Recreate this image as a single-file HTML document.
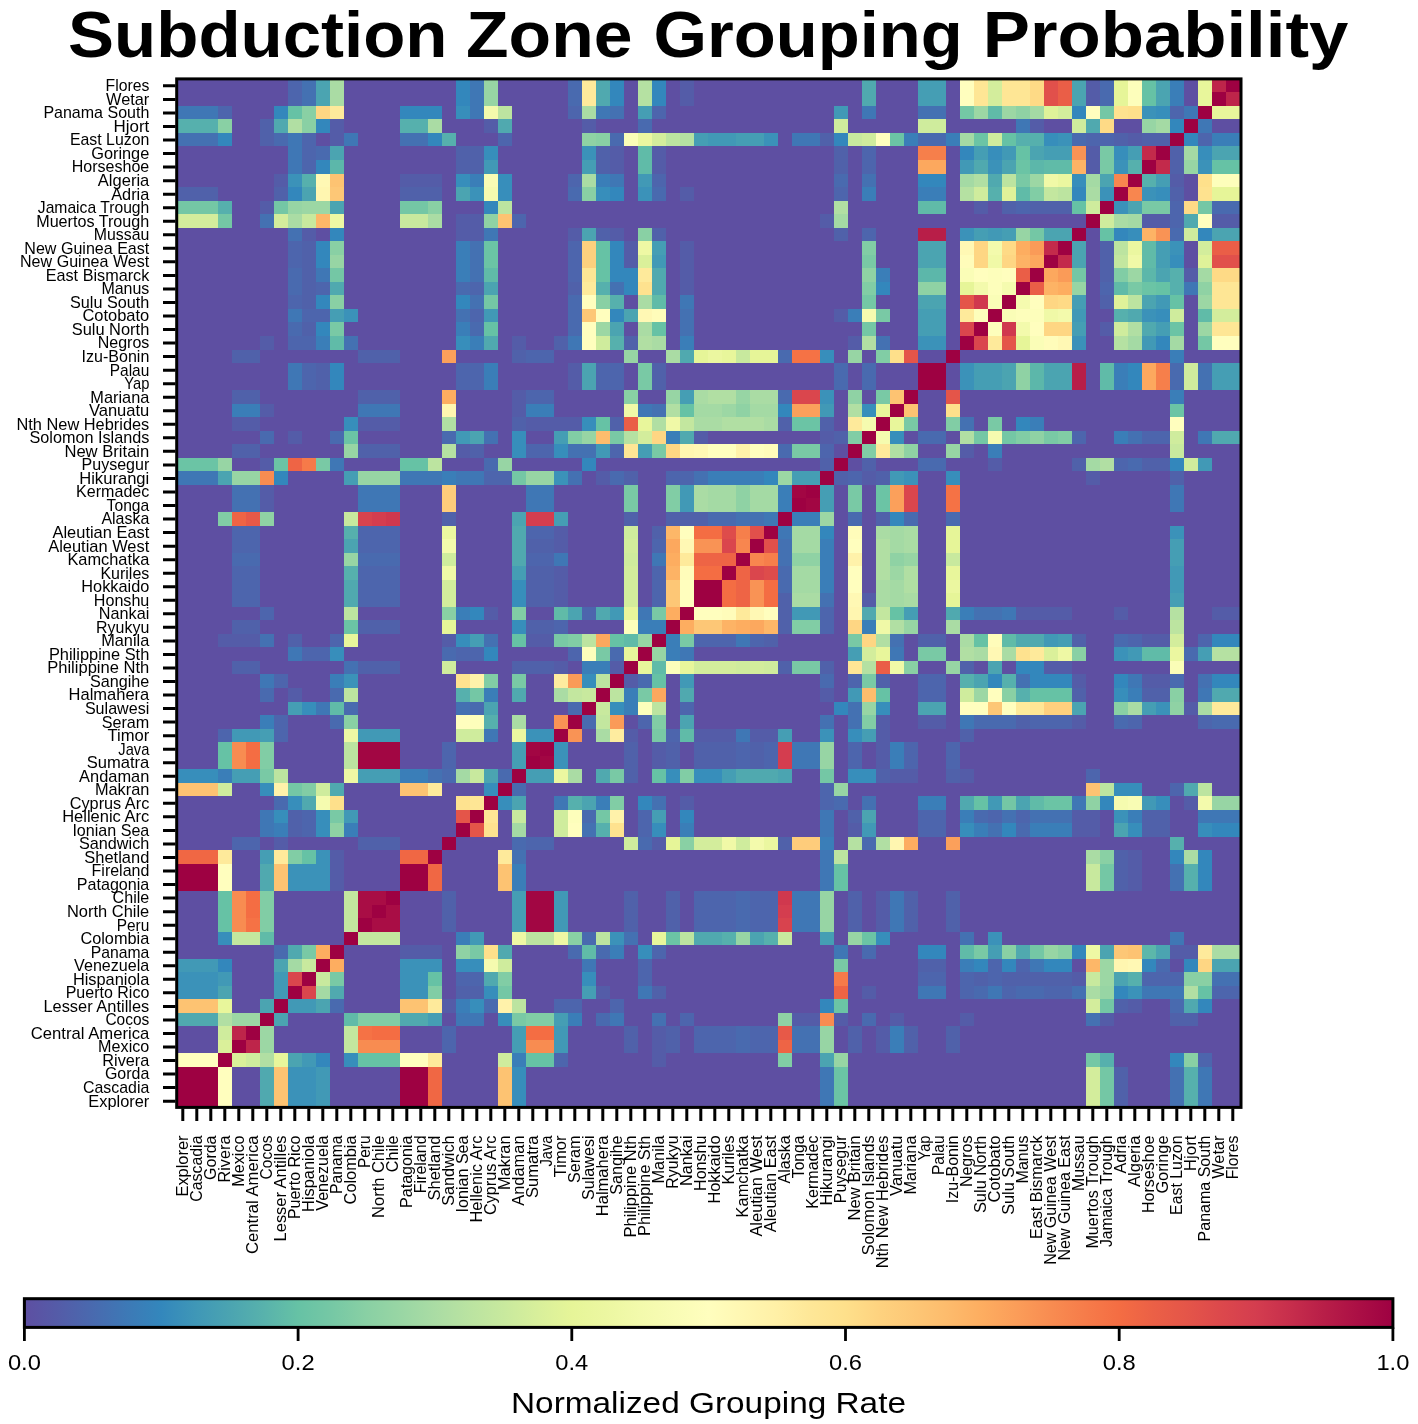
<!DOCTYPE html>
<html><head><meta charset="utf-8"><title>Subduction Zone Grouping Probability</title>
<style>html,body{margin:0;padding:0;background:#fff}svg{display:block}text{font-family:"Liberation Sans",sans-serif;fill:#000;-webkit-font-smoothing:antialiased}.t{font-size:16.6px}</style></head><body>
<svg width="1418" height="1424" viewBox="0 0 1418 1424" style="will-change:transform">
<rect width="1418" height="1424" fill="#fff"/>
<text id="title" y="56.8" font-size="64" font-weight="bold"><tspan x="68.1" textLength="379.4" lengthAdjust="spacingAndGlyphs">Subduction</tspan> <tspan x="466" textLength="166.5" lengthAdjust="spacingAndGlyphs">Zone</tspan> <tspan x="653.6" textLength="309.2" lengthAdjust="spacingAndGlyphs">Grouping</tspan> <tspan x="982.8" textLength="365.5" lengthAdjust="spacingAndGlyphs">Probability</tspan></text>
<g shape-rendering="crispEdges">
<rect x="175.5" y="78.8" width="1064" height="1028.81" fill="#5e4fa2"/>
<path fill="#545ca8" d="M679.5 78.8H693.5V92.34H679.5zM1085.5 78.8H1099.5V92.34H1085.5zM679.5 92.34H693.5V105.87H679.5zM1085.5 92.34H1099.5V105.87H1085.5zM329.5 119.41H343.5V132.95H329.5zM483.5 119.41H497.5V132.95H483.5zM581.5 119.41H595.5V132.95H581.5zM1029.5 119.41H1043.5V132.95H1029.5zM329.5 132.95H343.5V146.49H329.5zM1127.5 132.95H1141.5V146.49H1127.5zM609.5 146.49H623.5V160.02H609.5zM651.5 146.49H665.5V160.02H651.5zM1085.5 146.49H1099.5V160.02H1085.5zM609.5 160.02H623.5V173.56H609.5zM651.5 160.02H665.5V173.56H651.5zM1085.5 160.02H1099.5V173.56H1085.5zM273.5 173.56H287.5V187.1H273.5zM399.5 173.56H441.5V187.1H399.5zM1169.5 173.56H1183.5V187.1H1169.5zM679.5 187.1H693.5V200.63H679.5zM259.5 200.63H273.5V214.17H259.5zM973.5 200.63H987.5V214.17H973.5zM455.5 214.17H483.5V227.71H455.5zM819.5 214.17H833.5V227.71H819.5zM1141.5 214.17H1169.5V227.71H1141.5zM1211.5 214.17H1239.5V227.71H1211.5zM301.5 227.71H315.5V241.24H301.5zM455.5 227.71H483.5V241.24H455.5zM567.5 227.71H581.5V241.24H567.5zM609.5 227.71H623.5V241.24H609.5zM623.5 241.24H637.5V254.78H623.5zM679.5 241.24H693.5V254.78H679.5zM623.5 254.78H637.5V268.32H623.5zM679.5 254.78H693.5V268.32H679.5zM679.5 268.32H693.5V281.86H679.5zM1183.5 268.32H1197.5V281.86H1183.5zM679.5 281.86H693.5V295.39H679.5zM833.5 308.93H847.5V322.47H833.5zM1099.5 322.47H1113.5V336H1099.5zM259.5 336H273.5V349.54H259.5zM511.5 336H525.5V349.54H511.5zM847.5 336H861.5V349.54H847.5zM567.5 363.08H581.5V376.61H567.5zM567.5 376.61H581.5V390.15H567.5zM511.5 390.15H525.5V403.69H511.5zM259.5 403.69H273.5V417.23H259.5zM511.5 403.69H525.5V417.23H511.5zM231.5 417.23H259.5V430.76H231.5zM357.5 417.23H399.5V430.76H357.5zM525.5 417.23H581.5V430.76H525.5zM287.5 430.76H301.5V444.3H287.5zM693.5 430.76H707.5V444.3H693.5zM819.5 430.76H833.5V444.3H819.5zM455.5 444.3H469.5V457.84H455.5zM959.5 444.3H973.5V457.84H959.5zM259.5 457.84H273.5V471.37H259.5zM987.5 457.84H1001.5V471.37H987.5zM595.5 471.37H609.5V484.91H595.5zM861.5 471.37H875.5V484.91H861.5zM1085.5 471.37H1099.5V484.91H1085.5zM259.5 484.91H273.5V498.45H259.5zM259.5 498.45H273.5V511.98H259.5zM553.5 525.52H567.5V539.06H553.5zM553.5 539.06H567.5V552.6H553.5zM553.5 566.13H567.5V579.67H553.5zM553.5 579.67H567.5V593.21H553.5zM553.5 593.21H567.5V606.74H553.5zM861.5 593.21H875.5V606.74H861.5zM483.5 606.74H497.5V620.28H483.5zM1015.5 606.74H1071.5V620.28H1015.5zM1113.5 606.74H1127.5V620.28H1113.5zM1211.5 606.74H1239.5V620.28H1211.5zM217.5 633.82H259.5V647.35H217.5zM441.5 633.82H455.5V647.35H441.5zM525.5 633.82H553.5V647.35H525.5zM1141.5 633.82H1169.5V647.35H1141.5zM553.5 660.89H567.5V674.43H553.5zM609.5 660.89H623.5V674.43H609.5zM1043.5 660.89H1071.5V674.43H1043.5zM623.5 674.43H637.5V687.97H623.5zM1071.5 674.43H1085.5V687.97H1071.5zM1141.5 674.43H1169.5V687.97H1141.5zM287.5 687.97H301.5V701.5H287.5zM819.5 687.97H833.5V701.5H819.5zM1183.5 701.5H1197.5V715.04H1183.5zM875.5 715.04H889.5V728.58H875.5zM917.5 715.04H945.5V728.58H917.5zM1071.5 715.04H1085.5V728.58H1071.5zM623.5 728.58H637.5V742.11H623.5zM693.5 728.58H735.5V742.11H693.5zM749.5 728.58H777.5V742.11H749.5zM875.5 728.58H889.5V742.11H875.5zM651.5 742.11H665.5V755.65H651.5zM875.5 742.11H889.5V755.65H875.5zM651.5 755.65H665.5V769.19H651.5zM875.5 755.65H889.5V769.19H875.5zM889.5 769.19H917.5V782.72H889.5zM959.5 769.19H973.5V782.72H959.5zM679.5 796.26H693.5V809.8H679.5zM1183.5 796.26H1197.5V809.8H1183.5zM1071.5 809.8H1099.5V823.34H1071.5zM847.5 823.34H861.5V836.87H847.5zM1071.5 823.34H1099.5V836.87H1071.5zM273.5 836.87H287.5V850.41H273.5zM651.5 836.87H665.5V850.41H651.5zM329.5 850.41H343.5V863.95H329.5zM1127.5 850.41H1141.5V863.95H1127.5zM329.5 863.95H343.5V877.48H329.5zM1127.5 863.95H1141.5V877.48H1127.5zM329.5 877.48H343.5V891.02H329.5zM1127.5 877.48H1141.5V891.02H1127.5zM875.5 891.02H889.5V904.56H875.5zM875.5 904.56H889.5V918.09H875.5zM875.5 918.09H889.5V931.63H875.5zM399.5 945.17H441.5V958.71H399.5zM1169.5 945.17H1197.5V958.71H1169.5zM1071.5 972.24H1085.5V985.78H1071.5zM595.5 985.78H609.5V999.32H595.5zM861.5 985.78H875.5V999.32H861.5zM441.5 999.32H455.5V1012.85H441.5zM1127.5 999.32H1141.5V1012.85H1127.5zM791.5 1012.85H819.5V1026.39H791.5zM833.5 1012.85H847.5V1026.39H833.5zM889.5 1012.85H903.5V1026.39H889.5zM959.5 1012.85H973.5V1026.39H959.5zM1099.5 1012.85H1113.5V1026.39H1099.5zM651.5 1026.39H665.5V1039.93H651.5zM875.5 1026.39H889.5V1039.93H875.5zM651.5 1039.93H665.5V1053.46H651.5zM875.5 1039.93H889.5V1053.46H875.5zM651.5 1053.46H665.5V1067H651.5z"/>
<path fill="#5061aa" d="M259.5 119.41H273.5V132.95H259.5zM259.5 132.95H273.5V146.49H259.5zM819.5 132.95H833.5V146.49H819.5zM1113.5 132.95H1127.5V146.49H1113.5zM1141.5 132.95H1169.5V146.49H1141.5zM455.5 146.49H483.5V160.02H455.5zM595.5 146.49H609.5V160.02H595.5zM833.5 146.49H847.5V160.02H833.5zM1169.5 146.49H1183.5V160.02H1169.5zM455.5 160.02H483.5V173.56H455.5zM595.5 160.02H609.5V173.56H595.5zM833.5 160.02H847.5V173.56H833.5zM1169.5 160.02H1183.5V173.56H1169.5zM175.5 187.1H217.5V200.63H175.5zM273.5 187.1H287.5V200.63H273.5zM399.5 187.1H441.5V200.63H399.5zM1169.5 187.1H1183.5V200.63H1169.5zM1001.5 200.63H1015.5V214.17H1001.5zM1029.5 200.63H1071.5V214.17H1029.5zM595.5 227.71H609.5V241.24H595.5zM651.5 227.71H665.5V241.24H651.5zM833.5 227.71H847.5V241.24H833.5zM301.5 241.24H315.5V254.78H301.5zM1099.5 241.24H1113.5V254.78H1099.5zM301.5 254.78H315.5V268.32H301.5zM1099.5 254.78H1113.5V268.32H1099.5zM301.5 268.32H315.5V281.86H301.5zM1099.5 268.32H1113.5V281.86H1099.5zM301.5 281.86H315.5V295.39H301.5zM567.5 281.86H581.5V295.39H567.5zM301.5 295.39H315.5V308.93H301.5zM1099.5 295.39H1113.5V308.93H1099.5zM301.5 322.47H315.5V336H301.5zM553.5 336H567.5V349.54H553.5zM623.5 336H637.5V349.54H623.5zM231.5 349.54H259.5V363.08H231.5zM357.5 349.54H399.5V363.08H357.5zM511.5 349.54H525.5V363.08H511.5zM315.5 363.08H329.5V376.61H315.5zM651.5 363.08H665.5V376.61H651.5zM315.5 376.61H329.5V390.15H315.5zM651.5 376.61H665.5V390.15H651.5zM231.5 390.15H259.5V403.69H231.5zM357.5 390.15H399.5V403.69H357.5zM511.5 417.23H525.5V430.76H511.5zM609.5 417.23H623.5V430.76H609.5zM777.5 417.23H791.5V430.76H777.5zM819.5 417.23H833.5V430.76H819.5zM833.5 430.76H847.5V444.3H833.5zM231.5 444.3H259.5V457.84H231.5zM357.5 444.3H399.5V457.84H357.5zM469.5 444.3H483.5V457.84H469.5zM819.5 457.84H833.5V471.37H819.5zM861.5 457.84H875.5V471.37H861.5zM1071.5 457.84H1085.5V471.37H1071.5zM1141.5 457.84H1169.5V471.37H1141.5zM623.5 471.37H637.5V484.91H623.5zM833.5 471.37H847.5V484.91H833.5zM875.5 471.37H889.5V484.91H875.5zM1169.5 471.37H1183.5V484.91H1169.5zM441.5 511.98H455.5V525.52H441.5zM623.5 511.98H637.5V525.52H623.5zM665.5 511.98H707.5V525.52H665.5zM875.5 511.98H889.5V525.52H875.5zM651.5 525.52H665.5V539.06H651.5zM525.5 539.06H553.5V552.6H525.5zM525.5 566.13H553.5V579.67H525.5zM525.5 579.67H553.5V593.21H525.5zM525.5 593.21H553.5V606.74H525.5zM777.5 593.21H791.5V606.74H777.5zM777.5 606.74H791.5V620.28H777.5zM231.5 620.28H259.5V633.82H231.5zM357.5 620.28H399.5V633.82H357.5zM525.5 620.28H553.5V633.82H525.5zM777.5 620.28H791.5V633.82H777.5zM287.5 633.82H301.5V647.35H287.5zM763.5 633.82H777.5V647.35H763.5zM917.5 633.82H945.5V647.35H917.5zM1071.5 633.82H1085.5V647.35H1071.5zM231.5 660.89H259.5V674.43H231.5zM357.5 660.89H399.5V674.43H357.5zM511.5 660.89H553.5V674.43H511.5zM777.5 660.89H791.5V674.43H777.5zM819.5 660.89H833.5V674.43H819.5zM959.5 660.89H973.5V674.43H959.5zM875.5 674.43H889.5V687.97H875.5zM1071.5 687.97H1085.5V701.5H1071.5zM1141.5 687.97H1169.5V701.5H1141.5zM1015.5 715.04H1029.5V728.58H1015.5zM959.5 728.58H973.5V742.11H959.5zM623.5 742.11H637.5V755.65H623.5zM665.5 742.11H679.5V755.65H665.5zM693.5 742.11H735.5V755.65H693.5zM749.5 742.11H763.5V755.65H749.5zM623.5 755.65H637.5V769.19H623.5zM665.5 755.65H679.5V769.19H665.5zM693.5 755.65H735.5V769.19H693.5zM749.5 755.65H763.5V769.19H749.5zM623.5 769.19H637.5V782.72H623.5zM875.5 769.19H889.5V782.72H875.5zM945.5 769.19H959.5V782.72H945.5zM287.5 809.8H301.5V823.34H287.5zM847.5 809.8H861.5V823.34H847.5zM1141.5 809.8H1169.5V823.34H1141.5zM287.5 823.34H301.5V836.87H287.5zM1141.5 823.34H1169.5V836.87H1141.5zM357.5 836.87H399.5V850.41H357.5zM777.5 836.87H791.5V850.41H777.5zM1113.5 850.41H1127.5V863.95H1113.5zM1113.5 863.95H1127.5V877.48H1113.5zM1113.5 877.48H1127.5V891.02H1113.5zM441.5 891.02H455.5V904.56H441.5zM623.5 891.02H637.5V904.56H623.5zM665.5 891.02H679.5V904.56H665.5zM847.5 891.02H861.5V904.56H847.5zM903.5 891.02H917.5V904.56H903.5zM945.5 891.02H959.5V904.56H945.5zM441.5 904.56H455.5V918.09H441.5zM623.5 904.56H637.5V918.09H623.5zM665.5 904.56H679.5V918.09H665.5zM847.5 904.56H861.5V918.09H847.5zM903.5 904.56H917.5V918.09H903.5zM945.5 904.56H959.5V918.09H945.5zM441.5 918.09H455.5V931.63H441.5zM623.5 918.09H637.5V931.63H623.5zM665.5 918.09H679.5V931.63H665.5zM847.5 918.09H861.5V931.63H847.5zM903.5 918.09H917.5V931.63H903.5zM945.5 918.09H959.5V931.63H945.5zM917.5 958.71H945.5V972.24H917.5zM973.5 972.24H987.5V985.78H973.5zM1001.5 972.24H1071.5V985.78H1001.5zM455.5 985.78H483.5V999.32H455.5zM651.5 985.78H665.5V999.32H651.5zM1113.5 999.32H1127.5V1012.85H1113.5zM1169.5 1012.85H1197.5V1026.39H1169.5zM623.5 1026.39H637.5V1039.93H623.5zM665.5 1026.39H679.5V1039.93H665.5zM847.5 1026.39H861.5V1039.93H847.5zM903.5 1026.39H917.5V1039.93H903.5zM945.5 1026.39H959.5V1039.93H945.5zM623.5 1039.93H637.5V1053.46H623.5zM665.5 1039.93H679.5V1053.46H665.5zM847.5 1039.93H861.5V1053.46H847.5zM903.5 1039.93H917.5V1053.46H903.5zM945.5 1039.93H959.5V1053.46H945.5zM1113.5 1067H1127.5V1080.54H1113.5zM1113.5 1080.54H1127.5V1094.08H1113.5zM1113.5 1094.08H1127.5V1107.61H1113.5z"/>
<path fill="#4d65ad" d="M287.5 78.8H301.5V92.34H287.5zM287.5 92.34H301.5V105.87H287.5zM217.5 105.87H231.5V119.41H217.5zM567.5 105.87H581.5V119.41H567.5zM651.5 105.87H665.5V119.41H651.5zM1169.5 105.87H1183.5V119.41H1169.5zM301.5 132.95H315.5V146.49H301.5zM497.5 132.95H511.5V146.49H497.5zM1085.5 132.95H1113.5V146.49H1085.5zM1197.5 132.95H1211.5V146.49H1197.5zM301.5 146.49H315.5V160.02H301.5zM861.5 146.49H875.5V160.02H861.5zM301.5 160.02H315.5V173.56H301.5zM861.5 160.02H875.5V173.56H861.5zM567.5 173.56H581.5V187.1H567.5zM651.5 173.56H665.5V187.1H651.5zM833.5 187.1H847.5V200.63H833.5zM1015.5 200.63H1029.5V214.17H1015.5zM1169.5 200.63H1183.5V214.17H1169.5zM511.5 214.17H525.5V227.71H511.5zM1169.5 214.17H1183.5V227.71H1169.5zM861.5 227.71H875.5V241.24H861.5zM287.5 241.24H301.5V254.78H287.5zM567.5 241.24H581.5V254.78H567.5zM287.5 254.78H301.5V268.32H287.5zM567.5 254.78H581.5V268.32H567.5zM567.5 268.32H581.5V281.86H567.5zM315.5 281.86H329.5V295.39H315.5zM469.5 281.86H483.5V295.39H469.5zM1099.5 281.86H1113.5V295.39H1099.5zM287.5 295.39H301.5V308.93H287.5zM301.5 308.93H329.5V322.47H301.5zM469.5 308.93H483.5V322.47H469.5zM287.5 336H315.5V349.54H287.5zM525.5 349.54H553.5V363.08H525.5zM301.5 363.08H315.5V376.61H301.5zM455.5 363.08H483.5V376.61H455.5zM595.5 363.08H623.5V376.61H595.5zM301.5 376.61H315.5V390.15H301.5zM455.5 376.61H483.5V390.15H455.5zM595.5 376.61H623.5V390.15H595.5zM525.5 390.15H553.5V403.69H525.5zM1071.5 430.76H1085.5V444.3H1071.5zM1141.5 430.76H1169.5V444.3H1141.5zM525.5 444.3H553.5V457.84H525.5zM609.5 444.3H623.5V457.84H609.5zM819.5 444.3H833.5V457.84H819.5zM1113.5 457.84H1127.5V471.37H1113.5zM483.5 471.37H511.5V484.91H483.5zM665.5 471.37H693.5V484.91H665.5zM847.5 471.37H861.5V484.91H847.5zM231.5 525.52H259.5V539.06H231.5zM357.5 525.52H399.5V539.06H357.5zM525.5 525.52H553.5V539.06H525.5zM231.5 539.06H259.5V552.6H231.5zM357.5 539.06H399.5V552.6H357.5zM651.5 539.06H665.5V552.6H651.5zM525.5 552.6H553.5V566.13H525.5zM231.5 566.13H259.5V579.67H231.5zM357.5 566.13H399.5V579.67H357.5zM651.5 566.13H665.5V579.67H651.5zM231.5 579.67H259.5V593.21H231.5zM357.5 579.67H399.5V593.21H357.5zM651.5 579.67H665.5V593.21H651.5zM231.5 593.21H259.5V606.74H231.5zM357.5 593.21H399.5V606.74H357.5zM651.5 593.21H665.5V606.74H651.5zM259.5 606.74H273.5V620.28H259.5zM581.5 606.74H595.5V620.28H581.5zM819.5 606.74H833.5V620.28H819.5zM553.5 620.28H567.5V633.82H553.5zM819.5 620.28H833.5V633.82H819.5zM329.5 633.82H343.5V647.35H329.5zM693.5 633.82H735.5V647.35H693.5zM749.5 633.82H763.5V647.35H749.5zM1127.5 633.82H1141.5V647.35H1127.5zM1197.5 633.82H1211.5V647.35H1197.5zM301.5 647.35H329.5V660.89H301.5zM455.5 647.35H483.5V660.89H455.5zM567.5 647.35H581.5V660.89H567.5zM273.5 674.43H287.5V687.97H273.5zM847.5 674.43H861.5V687.97H847.5zM917.5 674.43H945.5V687.97H917.5zM917.5 687.97H945.5V701.5H917.5zM679.5 701.5H693.5V715.04H679.5zM273.5 715.04H287.5V728.58H273.5zM637.5 715.04H651.5V728.58H637.5zM1029.5 715.04H1071.5V728.58H1029.5zM1127.5 715.04H1141.5V728.58H1127.5zM1197.5 715.04H1211.5V728.58H1197.5zM217.5 728.58H231.5V742.11H217.5zM273.5 728.58H287.5V742.11H273.5zM665.5 728.58H679.5V742.11H665.5zM441.5 742.11H455.5V755.65H441.5zM735.5 742.11H749.5V755.65H735.5zM763.5 742.11H777.5V755.65H763.5zM847.5 742.11H861.5V755.65H847.5zM903.5 742.11H917.5V755.65H903.5zM945.5 742.11H959.5V755.65H945.5zM441.5 755.65H455.5V769.19H441.5zM735.5 755.65H749.5V769.19H735.5zM763.5 755.65H777.5V769.19H763.5zM847.5 755.65H861.5V769.19H847.5zM903.5 755.65H917.5V769.19H903.5zM945.5 755.65H959.5V769.19H945.5zM1085.5 769.19H1099.5V782.72H1085.5zM819.5 782.72H833.5V796.26H819.5zM1169.5 782.72H1183.5V796.26H1169.5zM819.5 796.26H833.5V809.8H819.5zM301.5 809.8H315.5V823.34H301.5zM637.5 809.8H651.5V823.34H637.5zM917.5 809.8H945.5V823.34H917.5zM987.5 809.8H1001.5V823.34H987.5zM1015.5 809.8H1029.5V823.34H1015.5zM301.5 823.34H315.5V836.87H301.5zM637.5 823.34H651.5V836.87H637.5zM917.5 823.34H945.5V836.87H917.5zM231.5 836.87H259.5V850.41H231.5zM525.5 836.87H553.5V850.41H525.5zM693.5 891.02H735.5V904.56H693.5zM749.5 891.02H777.5V904.56H749.5zM693.5 904.56H735.5V918.09H693.5zM749.5 904.56H777.5V918.09H749.5zM693.5 918.09H735.5V931.63H693.5zM749.5 918.09H777.5V931.63H749.5zM651.5 945.17H665.5V958.71H651.5zM637.5 958.71H651.5V972.24H637.5zM987.5 958.71H1001.5V972.24H987.5zM1015.5 958.71H1029.5V972.24H1015.5zM455.5 972.24H483.5V985.78H455.5zM637.5 972.24H651.5V985.78H637.5zM917.5 972.24H945.5V985.78H917.5zM959.5 972.24H973.5V985.78H959.5zM987.5 972.24H1001.5V985.78H987.5zM1141.5 972.24H1183.5V985.78H1141.5zM959.5 985.78H973.5V999.32H959.5zM1001.5 985.78H1015.5V999.32H1001.5zM1043.5 985.78H1071.5V999.32H1043.5zM1211.5 985.78H1239.5V999.32H1211.5zM553.5 999.32H581.5V1012.85H553.5zM609.5 999.32H623.5V1012.85H609.5zM679.5 1012.85H693.5V1026.39H679.5zM441.5 1026.39H455.5V1039.93H441.5zM693.5 1026.39H735.5V1039.93H693.5zM749.5 1026.39H777.5V1039.93H749.5zM441.5 1039.93H455.5V1053.46H441.5zM693.5 1039.93H735.5V1053.46H693.5zM749.5 1039.93H777.5V1053.46H749.5zM553.5 1053.46H567.5V1067H553.5zM1197.5 1053.46H1211.5V1067H1197.5z"/>
<path fill="#496aaf" d="M567.5 78.8H581.5V92.34H567.5zM1099.5 78.8H1113.5V92.34H1099.5zM567.5 92.34H581.5V105.87H567.5zM1099.5 92.34H1113.5V105.87H1099.5zM637.5 119.41H651.5V132.95H637.5zM273.5 132.95H287.5V146.49H273.5zM609.5 132.95H623.5V146.49H609.5zM917.5 132.95H945.5V146.49H917.5zM1071.5 132.95H1085.5V146.49H1071.5zM315.5 146.49H329.5V160.02H315.5zM833.5 173.56H847.5V187.1H833.5zM567.5 187.1H581.5V200.63H567.5zM651.5 187.1H665.5V200.63H651.5zM1211.5 200.63H1239.5V214.17H1211.5zM1169.5 227.71H1183.5V241.24H1169.5zM287.5 268.32H301.5V281.86H287.5zM287.5 281.86H301.5V295.39H287.5zM455.5 281.86H469.5V295.39H455.5zM567.5 295.39H581.5V308.93H567.5zM567.5 308.93H581.5V322.47H567.5zM287.5 322.47H301.5V336H287.5zM469.5 322.47H483.5V336H469.5zM567.5 322.47H581.5V336H567.5zM777.5 349.54H791.5V363.08H777.5zM833.5 363.08H847.5V376.61H833.5zM861.5 363.08H875.5V376.61H861.5zM1169.5 363.08H1183.5V376.61H1169.5zM833.5 376.61H847.5V390.15H833.5zM861.5 376.61H875.5V390.15H861.5zM1169.5 376.61H1183.5V390.15H1169.5zM777.5 390.15H791.5V403.69H777.5zM259.5 430.76H273.5V444.3H259.5zM329.5 430.76H343.5V444.3H329.5zM441.5 430.76H455.5V444.3H441.5zM917.5 430.76H945.5V444.3H917.5zM777.5 444.3H791.5V457.84H777.5zM483.5 457.84H497.5V471.37H483.5zM917.5 457.84H945.5V471.37H917.5zM1127.5 457.84H1141.5V471.37H1127.5zM609.5 471.37H623.5V484.91H609.5zM707.5 511.98H735.5V525.52H707.5zM847.5 511.98H861.5V525.52H847.5zM903.5 511.98H917.5V525.52H903.5zM945.5 511.98H959.5V525.52H945.5zM231.5 552.6H259.5V566.13H231.5zM357.5 552.6H399.5V566.13H357.5zM777.5 566.13H791.5V579.67H777.5zM777.5 579.67H791.5V593.21H777.5zM1113.5 633.82H1127.5V647.35H1113.5zM441.5 647.35H455.5V660.89H441.5zM609.5 647.35H623.5V660.89H609.5zM1183.5 647.35H1197.5V660.89H1183.5zM637.5 674.43H651.5V687.97H637.5zM819.5 674.43H833.5V687.97H819.5zM1169.5 674.43H1183.5V687.97H1169.5zM259.5 687.97H273.5V701.5H259.5zM329.5 687.97H343.5V701.5H329.5zM343.5 701.5H357.5V715.04H343.5zM469.5 701.5H483.5V715.04H469.5zM567.5 701.5H581.5V715.04H567.5zM329.5 715.04H343.5V728.58H329.5zM581.5 715.04H595.5V728.58H581.5zM973.5 715.04H1015.5V728.58H973.5zM1113.5 715.04H1127.5V728.58H1113.5zM1211.5 715.04H1239.5V728.58H1211.5zM441.5 769.19H455.5V782.72H441.5zM497.5 769.19H511.5V782.72H497.5zM511.5 782.72H525.5V796.26H511.5zM273.5 796.26H287.5V809.8H273.5zM833.5 796.26H847.5V809.8H833.5zM581.5 809.8H595.5V823.34H581.5zM973.5 809.8H987.5V823.34H973.5zM1015.5 823.34H1029.5V836.87H1015.5zM511.5 836.87H525.5V850.41H511.5zM637.5 836.87H651.5V850.41H637.5zM861.5 836.87H875.5V850.41H861.5zM735.5 891.02H749.5V904.56H735.5zM735.5 904.56H749.5V918.09H735.5zM735.5 918.09H749.5V931.63H735.5zM581.5 931.63H595.5V945.17H581.5zM273.5 945.17H287.5V958.71H273.5zM567.5 945.17H581.5V958.71H567.5zM595.5 945.17H609.5V958.71H595.5zM861.5 945.17H875.5V958.71H861.5zM1155.5 958.71H1169.5V972.24H1155.5zM973.5 985.78H987.5V999.32H973.5zM1015.5 985.78H1043.5V999.32H1015.5zM329.5 999.32H343.5V1012.85H329.5zM483.5 999.32H497.5V1012.85H483.5zM1169.5 999.32H1183.5V1012.85H1169.5zM595.5 1012.85H609.5V1026.39H595.5zM861.5 1012.85H875.5V1026.39H861.5zM735.5 1026.39H749.5V1039.93H735.5zM735.5 1039.93H749.5V1053.46H735.5z"/>
<path fill="#4471b2" d="M301.5 78.8H315.5V92.34H301.5zM301.5 92.34H315.5V105.87H301.5zM609.5 105.87H623.5V119.41H609.5zM917.5 105.87H945.5V119.41H917.5zM175.5 132.95H217.5V146.49H175.5zM399.5 132.95H427.5V146.49H399.5zM861.5 173.56H875.5V187.1H861.5zM259.5 214.17H273.5V227.71H259.5zM287.5 227.71H301.5V241.24H287.5zM469.5 241.24H483.5V254.78H469.5zM469.5 254.78H483.5V268.32H469.5zM469.5 268.32H483.5V281.86H469.5zM609.5 281.86H623.5V295.39H609.5zM469.5 295.39H483.5V308.93H469.5zM455.5 308.93H469.5V322.47H455.5zM679.5 308.93H693.5V322.47H679.5zM679.5 322.47H693.5V336H679.5zM343.5 336H357.5V349.54H343.5zM875.5 336H889.5V349.54H875.5zM1197.5 363.08H1211.5V376.61H1197.5zM1197.5 376.61H1211.5V390.15H1197.5zM651.5 403.69H665.5V417.23H651.5zM959.5 417.23H973.5V430.76H959.5zM483.5 430.76H497.5V444.3H483.5zM1127.5 430.76H1141.5V444.3H1127.5zM567.5 444.3H595.5V457.84H567.5zM567.5 471.37H581.5V484.91H567.5zM693.5 471.37H707.5V484.91H693.5zM231.5 484.91H259.5V498.45H231.5zM231.5 498.45H259.5V511.98H231.5zM735.5 511.98H763.5V525.52H735.5zM777.5 539.06H791.5V552.6H777.5zM777.5 552.6H791.5V566.13H777.5zM819.5 593.21H833.5V606.74H819.5zM973.5 606.74H1001.5V620.28H973.5zM259.5 633.82H273.5V647.35H259.5zM483.5 633.82H497.5V647.35H483.5zM889.5 633.82H903.5V647.35H889.5zM343.5 660.89H357.5V674.43H343.5zM1015.5 674.43H1029.5V687.97H1015.5zM1197.5 674.43H1211.5V687.97H1197.5zM455.5 701.5H469.5V715.04H455.5zM847.5 701.5H861.5V715.04H847.5zM819.5 715.04H833.5V728.58H819.5zM847.5 715.04H861.5V728.58H847.5zM427.5 769.19H441.5V782.72H427.5zM651.5 796.26H665.5V809.8H651.5zM861.5 796.26H875.5V809.8H861.5zM1001.5 809.8H1015.5V823.34H1001.5zM1029.5 809.8H1071.5V823.34H1029.5zM581.5 823.34H595.5V836.87H581.5zM987.5 823.34H1001.5V836.87H987.5zM511.5 850.41H525.5V863.95H511.5zM1169.5 863.95H1183.5V877.48H1169.5zM1169.5 877.48H1183.5V891.02H1169.5zM623.5 931.63H637.5V945.17H623.5zM959.5 931.63H973.5V945.17H959.5zM1211.5 972.24H1239.5V985.78H1211.5zM1071.5 985.78H1085.5V999.32H1071.5zM651.5 1012.85H665.5V1026.39H651.5zM1085.5 1012.85H1099.5V1026.39H1085.5zM791.5 1026.39H819.5V1039.93H791.5zM791.5 1039.93H819.5V1053.46H791.5zM1169.5 1067H1183.5V1080.54H1169.5zM1169.5 1080.54H1183.5V1094.08H1169.5zM1169.5 1094.08H1183.5V1107.61H1169.5z"/>
<path fill="#3f77b5" d="M469.5 78.8H483.5V92.34H469.5zM469.5 92.34H483.5V105.87H469.5zM175.5 105.87H217.5V119.41H175.5zM469.5 105.87H483.5V119.41H469.5zM595.5 105.87H609.5V119.41H595.5zM861.5 105.87H875.5V119.41H861.5zM1183.5 105.87H1197.5V119.41H1183.5zM1015.5 119.41H1029.5V132.95H1015.5zM1197.5 119.41H1211.5V132.95H1197.5zM287.5 132.95H301.5V146.49H287.5zM343.5 132.95H357.5V146.49H343.5zM791.5 132.95H819.5V146.49H791.5zM287.5 146.49H301.5V160.02H287.5zM287.5 160.02H301.5V173.56H287.5zM609.5 173.56H623.5V187.1H609.5zM483.5 227.71H497.5V241.24H483.5zM315.5 268.32H329.5V281.86H315.5zM1183.5 281.86H1197.5V295.39H1183.5zM679.5 295.39H693.5V308.93H679.5zM287.5 308.93H301.5V322.47H287.5zM567.5 336H581.5V349.54H567.5zM287.5 363.08H301.5V376.61H287.5zM287.5 376.61H301.5V390.15H287.5zM357.5 403.69H399.5V417.23H357.5zM637.5 403.69H651.5V417.23H637.5zM1197.5 430.76H1211.5V444.3H1197.5zM329.5 457.84H343.5V471.37H329.5zM175.5 471.37H217.5V484.91H175.5zM399.5 471.37H441.5V484.91H399.5zM455.5 471.37H483.5V484.91H455.5zM357.5 484.91H399.5V498.45H357.5zM525.5 484.91H553.5V498.45H525.5zM1169.5 484.91H1183.5V498.45H1169.5zM357.5 498.45H399.5V511.98H357.5zM525.5 498.45H553.5V511.98H525.5zM1169.5 498.45H1183.5V511.98H1169.5zM763.5 511.98H777.5V525.52H763.5zM777.5 525.52H791.5V539.06H777.5zM553.5 552.6H567.5V566.13H553.5zM651.5 552.6H665.5V566.13H651.5zM637.5 606.74H651.5V620.28H637.5zM1001.5 606.74H1015.5V620.28H1001.5zM735.5 633.82H749.5V647.35H735.5zM287.5 647.35H301.5V660.89H287.5zM679.5 647.35H693.5V660.89H679.5zM889.5 647.35H903.5V660.89H889.5zM259.5 674.43H273.5V687.97H259.5zM1127.5 674.43H1141.5V687.97H1127.5zM1197.5 687.97H1211.5V701.5H1197.5zM315.5 701.5H329.5V715.04H315.5zM959.5 715.04H973.5V728.58H959.5zM483.5 728.58H497.5V742.11H483.5zM735.5 728.58H749.5V742.11H735.5zM791.5 742.11H819.5V755.65H791.5zM791.5 755.65H819.5V769.19H791.5zM553.5 796.26H567.5V809.8H553.5zM1071.5 796.26H1085.5V809.8H1071.5zM259.5 809.8H273.5V823.34H259.5zM819.5 809.8H833.5V823.34H819.5zM1197.5 809.8H1239.5V823.34H1197.5zM259.5 823.34H273.5V836.87H259.5zM819.5 823.34H833.5V836.87H819.5zM819.5 850.41H833.5V863.95H819.5zM819.5 863.95H833.5V877.48H819.5zM819.5 877.48H833.5V891.02H819.5zM791.5 891.02H819.5V904.56H791.5zM889.5 891.02H903.5V904.56H889.5zM791.5 904.56H819.5V918.09H791.5zM889.5 904.56H903.5V918.09H889.5zM791.5 918.09H819.5V931.63H791.5zM889.5 918.09H903.5V931.63H889.5zM1169.5 931.63H1183.5V945.17H1169.5zM833.5 945.17H847.5V958.71H833.5zM581.5 958.71H595.5V972.24H581.5zM1029.5 958.71H1043.5V972.24H1029.5zM637.5 985.78H651.5V999.32H637.5zM917.5 985.78H945.5V999.32H917.5zM987.5 985.78H1001.5V999.32H987.5zM1141.5 985.78H1183.5V999.32H1141.5zM455.5 1012.85H483.5V1026.39H455.5zM609.5 1012.85H623.5V1026.39H609.5zM819.5 1067H833.5V1080.54H819.5zM1197.5 1067H1211.5V1080.54H1197.5zM819.5 1080.54H833.5V1094.08H819.5zM1197.5 1080.54H1211.5V1094.08H1197.5zM819.5 1094.08H833.5V1107.61H819.5zM1197.5 1094.08H1211.5V1107.61H1197.5z"/>
<path fill="#3a7eb8" d="M1169.5 78.8H1183.5V92.34H1169.5zM1169.5 92.34H1183.5V105.87H1169.5zM903.5 132.95H917.5V146.49H903.5zM945.5 132.95H959.5V146.49H945.5zM1211.5 132.95H1239.5V146.49H1211.5zM469.5 173.56H483.5V187.1H469.5zM595.5 173.56H609.5V187.1H595.5zM861.5 187.1H875.5V200.63H861.5zM917.5 187.1H945.5V200.63H917.5zM455.5 241.24H469.5V254.78H455.5zM455.5 254.78H469.5V268.32H455.5zM455.5 268.32H469.5V281.86H455.5zM875.5 268.32H889.5V281.86H875.5zM847.5 308.93H861.5V322.47H847.5zM455.5 322.47H469.5V336H455.5zM315.5 336H329.5V349.54H315.5zM469.5 336H483.5V349.54H469.5zM679.5 336H693.5V349.54H679.5zM1169.5 349.54H1183.5V363.08H1169.5zM483.5 363.08H497.5V376.61H483.5zM1113.5 363.08H1127.5V376.61H1113.5zM483.5 376.61H497.5V390.15H483.5zM1113.5 376.61H1127.5V390.15H1113.5zM1169.5 390.15H1183.5V403.69H1169.5zM231.5 403.69H259.5V417.23H231.5zM525.5 403.69H553.5V417.23H525.5zM1029.5 417.23H1043.5V430.76H1029.5zM665.5 430.76H679.5V444.3H665.5zM1113.5 430.76H1127.5V444.3H1113.5zM987.5 444.3H1001.5V457.84H987.5zM441.5 471.37H455.5V484.91H441.5zM707.5 471.37H763.5V484.91H707.5zM777.5 484.91H791.5V498.45H777.5zM777.5 498.45H791.5V511.98H777.5zM791.5 511.98H819.5V525.52H791.5zM819.5 539.06H833.5V552.6H819.5zM819.5 552.6H833.5V566.13H819.5zM819.5 566.13H833.5V579.67H819.5zM819.5 579.67H833.5V593.21H819.5zM455.5 606.74H469.5V620.28H455.5zM959.5 606.74H973.5V620.28H959.5zM637.5 620.28H665.5V633.82H637.5zM861.5 620.28H875.5V633.82H861.5zM665.5 633.82H679.5V647.35H665.5zM665.5 647.35H679.5V660.89H665.5zM581.5 660.89H609.5V674.43H581.5zM329.5 674.43H343.5V687.97H329.5zM483.5 687.97H497.5V701.5H483.5zM623.5 687.97H637.5V701.5H623.5zM1127.5 687.97H1141.5V701.5H1127.5zM623.5 701.5H637.5V715.04H623.5zM259.5 715.04H273.5V728.58H259.5zM889.5 742.11H903.5V755.65H889.5zM889.5 755.65H903.5V769.19H889.5zM217.5 769.19H231.5V782.72H217.5zM399.5 769.19H427.5V782.72H399.5zM595.5 796.26H609.5V809.8H595.5zM917.5 796.26H945.5V809.8H917.5zM959.5 809.8H973.5V823.34H959.5zM1127.5 809.8H1141.5V823.34H1127.5zM273.5 823.34H287.5V836.87H273.5zM343.5 823.34H357.5V836.87H343.5zM679.5 823.34H693.5V836.87H679.5zM973.5 823.34H987.5V836.87H973.5zM1029.5 823.34H1071.5V836.87H1029.5zM819.5 836.87H833.5V850.41H819.5zM511.5 863.95H525.5V877.48H511.5zM511.5 877.48H525.5V891.02H511.5zM455.5 931.63H469.5V945.17H455.5zM609.5 945.17H623.5V958.71H609.5zM959.5 958.71H973.5V972.24H959.5zM455.5 999.32H469.5V1012.85H455.5zM567.5 1012.85H581.5V1026.39H567.5zM889.5 1026.39H903.5V1039.93H889.5zM889.5 1039.93H903.5V1053.46H889.5zM511.5 1053.46H525.5V1067H511.5z"/>
<path fill="#3387bc" d="M455.5 78.8H469.5V92.34H455.5zM609.5 78.8H623.5V92.34H609.5zM651.5 78.8H665.5V92.34H651.5zM455.5 92.34H469.5V105.87H455.5zM609.5 92.34H623.5V105.87H609.5zM651.5 92.34H665.5V105.87H651.5zM273.5 105.87H287.5V119.41H273.5zM399.5 105.87H441.5V119.41H399.5zM1071.5 105.87H1085.5V119.41H1071.5zM315.5 119.41H329.5V132.95H315.5zM1169.5 119.41H1183.5V132.95H1169.5zM217.5 132.95H231.5V146.49H217.5zM427.5 132.95H441.5V146.49H427.5zM833.5 132.95H847.5V146.49H833.5zM1183.5 132.95H1197.5V146.49H1183.5zM959.5 146.49H973.5V160.02H959.5zM315.5 160.02H329.5V173.56H315.5zM917.5 173.56H945.5V187.1H917.5zM287.5 187.1H301.5V200.63H287.5zM609.5 187.1H623.5V200.63H609.5zM1071.5 187.1H1085.5V200.63H1071.5zM483.5 200.63H497.5V214.17H483.5zM329.5 227.71H343.5V241.24H329.5zM1113.5 227.71H1127.5V241.24H1113.5zM1197.5 227.71H1211.5V241.24H1197.5zM315.5 241.24H329.5V254.78H315.5zM609.5 241.24H623.5V254.78H609.5zM315.5 254.78H329.5V268.32H315.5zM609.5 254.78H623.5V268.32H609.5zM609.5 268.32H637.5V281.86H609.5zM623.5 281.86H637.5V295.39H623.5zM875.5 281.86H889.5V295.39H875.5zM315.5 295.39H329.5V308.93H315.5zM455.5 295.39H469.5V308.93H455.5zM609.5 308.93H623.5V322.47H609.5zM315.5 322.47H329.5V336H315.5zM1155.5 336H1169.5V349.54H1155.5zM329.5 363.08H343.5V376.61H329.5zM1127.5 363.08H1141.5V376.61H1127.5zM329.5 376.61H343.5V390.15H329.5zM1127.5 376.61H1141.5V390.15H1127.5zM777.5 403.69H791.5V417.23H777.5zM1015.5 417.23H1029.5V430.76H1015.5zM581.5 457.84H595.5V471.37H581.5zM1169.5 457.84H1183.5V471.37H1169.5zM273.5 471.37H287.5V484.91H273.5zM763.5 471.37H777.5V484.91H763.5zM889.5 511.98H903.5V525.52H889.5zM819.5 525.52H833.5V539.06H819.5zM469.5 606.74H483.5V620.28H469.5zM1211.5 633.82H1239.5V647.35H1211.5zM483.5 647.35H497.5V660.89H483.5zM1015.5 660.89H1043.5V674.43H1015.5zM987.5 674.43H1001.5V687.97H987.5zM1029.5 674.43H1071.5V687.97H1029.5zM1113.5 674.43H1127.5V687.97H1113.5zM1211.5 674.43H1239.5V687.97H1211.5zM833.5 701.5H847.5V715.04H833.5zM637.5 796.26H651.5V809.8H637.5zM1099.5 796.26H1113.5V809.8H1099.5zM679.5 809.8H693.5V823.34H679.5zM1001.5 823.34H1015.5V836.87H1001.5zM1211.5 823.34H1239.5V836.87H1211.5zM1169.5 850.41H1183.5V863.95H1169.5zM1197.5 850.41H1211.5V863.95H1197.5zM1197.5 863.95H1211.5V877.48H1197.5zM1197.5 877.48H1211.5V891.02H1197.5zM917.5 945.17H945.5V958.71H917.5zM1071.5 945.17H1085.5V958.71H1071.5zM217.5 958.71H231.5V972.24H217.5zM973.5 958.71H987.5V972.24H973.5zM1001.5 958.71H1015.5V972.24H1001.5zM1043.5 958.71H1071.5V972.24H1043.5zM1141.5 958.71H1155.5V972.24H1141.5zM1183.5 958.71H1197.5V972.24H1183.5zM1113.5 985.78H1127.5V999.32H1113.5zM819.5 999.32H833.5V1012.85H819.5zM1197.5 999.32H1211.5V1012.85H1197.5zM315.5 1053.46H329.5V1067H315.5zM1169.5 1053.46H1183.5V1067H1169.5z"/>
<path fill="#378ebb" d="M455.5 105.87H469.5V119.41H455.5zM1155.5 105.87H1169.5V119.41H1155.5zM1043.5 132.95H1057.5V146.49H1043.5zM483.5 146.49H497.5V160.02H483.5zM987.5 146.49H1001.5V160.02H987.5zM1113.5 146.49H1127.5V160.02H1113.5zM1197.5 146.49H1211.5V160.02H1197.5zM455.5 173.56H469.5V187.1H455.5zM497.5 173.56H511.5V187.1H497.5zM1071.5 173.56H1085.5V187.1H1071.5zM497.5 187.1H511.5V200.63H497.5zM595.5 187.1H609.5V200.63H595.5zM1155.5 187.1H1169.5V200.63H1155.5zM1127.5 227.71H1141.5V241.24H1127.5zM1169.5 254.78H1183.5V268.32H1169.5zM1155.5 308.93H1169.5V322.47H1155.5zM455.5 336H469.5V349.54H455.5zM819.5 349.54H833.5V363.08H819.5zM861.5 403.69H875.5V417.23H861.5zM343.5 417.23H357.5V430.76H343.5zM581.5 417.23H595.5V430.76H581.5zM511.5 430.76H525.5V444.3H511.5zM889.5 430.76H903.5V444.3H889.5zM511.5 444.3H525.5V457.84H511.5zM553.5 444.3H567.5V457.84H553.5zM945.5 471.37H959.5V484.91H945.5zM511.5 579.67H525.5V593.21H511.5zM511.5 593.21H525.5V606.74H511.5zM511.5 620.28H525.5V633.82H511.5zM455.5 633.82H469.5V647.35H455.5zM329.5 647.35H343.5V660.89H329.5zM581.5 674.43H595.5V687.97H581.5zM1113.5 687.97H1127.5V701.5H1113.5zM301.5 701.5H315.5V715.04H301.5zM609.5 701.5H623.5V715.04H609.5zM875.5 701.5H889.5V715.04H875.5zM847.5 728.58H861.5V742.11H847.5zM175.5 769.19H217.5V782.72H175.5zM665.5 769.19H679.5V782.72H665.5zM693.5 769.19H721.5V782.72H693.5zM847.5 769.19H875.5V782.72H847.5zM259.5 782.72H273.5V796.26H259.5zM483.5 782.72H497.5V796.26H483.5zM1113.5 782.72H1141.5V796.26H1113.5zM287.5 796.26H301.5V809.8H287.5zM497.5 796.26H511.5V809.8H497.5zM1155.5 796.26H1169.5V809.8H1155.5zM273.5 809.8H287.5V823.34H273.5zM315.5 809.8H329.5V823.34H315.5zM315.5 823.34H329.5V836.87H315.5zM651.5 823.34H665.5V836.87H651.5zM959.5 823.34H973.5V836.87H959.5zM1127.5 823.34H1141.5V836.87H1127.5zM1197.5 823.34H1211.5V836.87H1197.5zM217.5 931.63H231.5V945.17H217.5zM875.5 931.63H889.5V945.17H875.5zM637.5 945.17H651.5V958.71H637.5zM455.5 958.71H483.5V972.24H455.5zM581.5 972.24H595.5V985.78H581.5zM483.5 985.78H497.5V999.32H483.5zM469.5 999.32H483.5V1012.85H469.5zM497.5 1012.85H511.5V1026.39H497.5zM343.5 1053.46H357.5V1067H343.5zM511.5 1067H525.5V1080.54H511.5zM511.5 1080.54H525.5V1094.08H511.5zM511.5 1094.08H525.5V1107.61H511.5z"/>
<path fill="#3b92b9" d="M1141.5 105.87H1155.5V119.41H1141.5zM763.5 132.95H777.5V146.49H763.5zM1057.5 132.95H1071.5V146.49H1057.5zM581.5 146.49H595.5V160.02H581.5zM987.5 160.02H1001.5V173.56H987.5zM1113.5 160.02H1127.5V173.56H1113.5zM1197.5 160.02H1211.5V173.56H1197.5zM287.5 173.56H301.5V187.1H287.5zM469.5 187.1H483.5V200.63H469.5zM637.5 187.1H651.5V200.63H637.5zM1099.5 187.1H1113.5V200.63H1099.5zM1141.5 187.1H1155.5V200.63H1141.5zM1113.5 200.63H1127.5V214.17H1113.5zM959.5 227.71H973.5V241.24H959.5zM1169.5 241.24H1183.5V254.78H1169.5zM343.5 308.93H357.5V322.47H343.5zM1141.5 308.93H1155.5V322.47H1141.5zM917.5 336H945.5V349.54H917.5zM1071.5 336H1085.5V349.54H1071.5zM959.5 363.08H973.5V376.61H959.5zM959.5 376.61H973.5V390.15H959.5zM819.5 390.15H833.5V403.69H819.5zM553.5 471.37H567.5V484.91H553.5zM903.5 471.37H917.5V484.91H903.5zM1169.5 525.52H1183.5V539.06H1169.5zM1113.5 647.35H1127.5V660.89H1113.5zM343.5 674.43H357.5V687.97H343.5zM1155.5 701.5H1169.5V715.04H1155.5zM525.5 728.58H553.5V742.11H525.5zM819.5 728.58H833.5V742.11H819.5zM553.5 742.11H567.5V755.65H553.5zM553.5 755.65H567.5V769.19H553.5zM1113.5 809.8H1127.5V823.34H1113.5zM315.5 850.41H329.5V863.95H315.5zM287.5 863.95H329.5V877.48H287.5zM287.5 877.48H329.5V891.02H287.5zM609.5 931.63H623.5V945.17H609.5zM987.5 931.63H1001.5V945.17H987.5zM399.5 958.71H441.5V972.24H399.5zM175.5 972.24H217.5V985.78H175.5zM399.5 972.24H427.5V985.78H399.5zM175.5 985.78H217.5V999.32H175.5zM399.5 985.78H427.5V999.32H399.5zM1127.5 985.78H1141.5V999.32H1127.5zM287.5 1067H315.5V1080.54H287.5zM287.5 1080.54H315.5V1094.08H287.5zM287.5 1094.08H315.5V1107.61H287.5z"/>
<path fill="#4199b6" d="M833.5 105.87H847.5V119.41H833.5zM707.5 132.95H735.5V146.49H707.5zM1001.5 146.49H1015.5V160.02H1001.5zM483.5 160.02H497.5V173.56H483.5zM959.5 160.02H973.5V173.56H959.5zM637.5 173.56H651.5V187.1H637.5zM987.5 227.71H1001.5V241.24H987.5zM651.5 254.78H665.5V268.32H651.5zM1155.5 295.39H1169.5V308.93H1155.5zM483.5 308.93H497.5V322.47H483.5zM1071.5 308.93H1085.5V322.47H1071.5zM1141.5 336H1155.5V349.54H1141.5zM819.5 403.69H833.5V417.23H819.5zM455.5 430.76H469.5V444.3H455.5zM595.5 444.3H609.5V457.84H595.5zM1197.5 457.84H1211.5V471.37H1197.5zM889.5 471.37H903.5V484.91H889.5zM679.5 484.91H693.5V498.45H679.5zM679.5 498.45H693.5V511.98H679.5zM1169.5 566.13H1183.5V579.67H1169.5zM1169.5 579.67H1183.5V593.21H1169.5zM609.5 606.74H623.5V620.28H609.5zM791.5 606.74H819.5V620.28H791.5zM1043.5 633.82H1057.5V647.35H1043.5zM1127.5 647.35H1141.5V660.89H1127.5zM679.5 674.43H693.5V687.97H679.5zM847.5 687.97H861.5V701.5H847.5zM231.5 728.58H259.5V742.11H231.5zM357.5 728.58H399.5V742.11H357.5zM987.5 796.26H1001.5V809.8H987.5zM1141.5 796.26H1155.5V809.8H1141.5zM343.5 809.8H357.5V823.34H343.5zM861.5 823.34H875.5V836.87H861.5zM553.5 891.02H567.5V904.56H553.5zM553.5 904.56H567.5V918.09H553.5zM553.5 918.09H567.5V931.63H553.5zM469.5 931.63H483.5V945.17H469.5zM175.5 958.71H217.5V972.24H175.5zM217.5 972.24H231.5V985.78H217.5zM273.5 972.24H287.5V985.78H273.5zM273.5 985.78H287.5V999.32H273.5zM287.5 999.32H315.5V1012.85H287.5zM553.5 1026.39H567.5V1039.93H553.5zM553.5 1039.93H567.5V1053.46H553.5zM301.5 1053.46H315.5V1067H301.5zM315.5 1067H329.5V1080.54H315.5zM315.5 1080.54H329.5V1094.08H315.5zM315.5 1094.08H329.5V1107.61H315.5z"/>
<path fill="#459eb4" d="M917.5 78.8H945.5V92.34H917.5zM917.5 92.34H945.5V105.87H917.5zM637.5 105.87H651.5V119.41H637.5zM693.5 132.95H707.5V146.49H693.5zM735.5 132.95H763.5V146.49H735.5zM973.5 146.49H987.5V160.02H973.5zM1043.5 146.49H1071.5V160.02H1043.5zM1127.5 146.49H1141.5V160.02H1127.5zM581.5 160.02H595.5V173.56H581.5zM1155.5 173.56H1169.5V187.1H1155.5zM973.5 227.71H987.5V241.24H973.5zM1001.5 227.71H1015.5V241.24H1001.5zM651.5 241.24H665.5V254.78H651.5zM1155.5 241.24H1169.5V254.78H1155.5zM1155.5 254.78H1169.5V268.32H1155.5zM1071.5 295.39H1085.5V308.93H1071.5zM329.5 308.93H343.5V322.47H329.5zM917.5 308.93H945.5V322.47H917.5zM917.5 322.47H945.5V336H917.5zM1071.5 322.47H1085.5V336H1071.5zM1155.5 322.47H1169.5V336H1155.5zM973.5 363.08H1001.5V376.61H973.5zM1211.5 363.08H1239.5V376.61H1211.5zM973.5 376.61H1001.5V390.15H973.5zM1211.5 376.61H1239.5V390.15H1211.5zM679.5 390.15H693.5V403.69H679.5zM553.5 430.76H567.5V444.3H553.5zM637.5 444.3H651.5V457.84H637.5zM343.5 471.37H357.5V484.91H343.5zM791.5 471.37H819.5V484.91H791.5zM819.5 484.91H833.5V498.45H819.5zM819.5 498.45H833.5V511.98H819.5zM553.5 511.98H567.5V525.52H553.5zM1169.5 539.06H1183.5V552.6H1169.5zM1169.5 552.6H1183.5V566.13H1169.5zM511.5 566.13H525.5V579.67H511.5zM1169.5 593.21H1183.5V606.74H1169.5zM903.5 606.74H917.5V620.28H903.5zM469.5 633.82H483.5V647.35H469.5zM1057.5 633.82H1071.5V647.35H1057.5zM847.5 647.35H861.5V660.89H847.5zM1197.5 647.35H1211.5V660.89H1197.5zM287.5 701.5H301.5V715.04H287.5zM1141.5 701.5H1155.5V715.04H1141.5zM259.5 728.58H273.5V742.11H259.5zM777.5 728.58H791.5V742.11H777.5zM861.5 728.58H875.5V742.11H861.5zM511.5 742.11H525.5V755.65H511.5zM511.5 755.65H525.5V769.19H511.5zM231.5 769.19H259.5V782.72H231.5zM357.5 769.19H399.5V782.72H357.5zM525.5 769.19H553.5V782.72H525.5zM721.5 769.19H735.5V782.72H721.5zM651.5 809.8H665.5V823.34H651.5zM259.5 850.41H273.5V863.95H259.5zM511.5 891.02H525.5V904.56H511.5zM511.5 904.56H525.5V918.09H511.5zM511.5 918.09H525.5V931.63H511.5zM819.5 931.63H833.5V945.17H819.5zM987.5 945.17H1001.5V958.71H987.5zM581.5 985.78H595.5V999.32H581.5zM427.5 1012.85H441.5V1026.39H427.5zM553.5 1012.85H567.5V1026.39H553.5zM511.5 1026.39H525.5V1039.93H511.5zM511.5 1039.93H525.5V1053.46H511.5z"/>
<path fill="#4ba4b1" d="M315.5 78.8H329.5V92.34H315.5zM1071.5 78.8H1085.5V92.34H1071.5zM1155.5 78.8H1169.5V92.34H1155.5zM315.5 92.34H329.5V105.87H315.5zM1071.5 92.34H1085.5V105.87H1071.5zM1155.5 92.34H1169.5V105.87H1155.5zM329.5 146.49H343.5V160.02H329.5zM1029.5 146.49H1043.5V160.02H1029.5zM1211.5 146.49H1239.5V160.02H1211.5zM1001.5 160.02H1015.5V173.56H1001.5zM1099.5 173.56H1113.5V187.1H1099.5zM301.5 187.1H315.5V200.63H301.5zM455.5 187.1H469.5V200.63H455.5zM329.5 200.63H343.5V214.17H329.5zM1127.5 200.63H1141.5V214.17H1127.5zM581.5 227.71H595.5V241.24H581.5zM1043.5 227.71H1071.5V241.24H1043.5zM1211.5 227.71H1239.5V241.24H1211.5zM917.5 241.24H945.5V254.78H917.5zM1071.5 241.24H1085.5V254.78H1071.5zM917.5 254.78H945.5V268.32H917.5zM1071.5 254.78H1085.5V268.32H1071.5zM1155.5 268.32H1169.5V281.86H1155.5zM483.5 281.86H497.5V295.39H483.5zM917.5 295.39H945.5V308.93H917.5zM1141.5 295.39H1155.5V308.93H1141.5zM623.5 308.93H637.5V322.47H623.5zM609.5 322.47H623.5V336H609.5zM581.5 363.08H595.5V376.61H581.5zM1001.5 363.08H1015.5V376.61H1001.5zM1043.5 363.08H1071.5V376.61H1043.5zM581.5 376.61H595.5V390.15H581.5zM1001.5 376.61H1015.5V390.15H1001.5zM1043.5 376.61H1071.5V390.15H1043.5zM469.5 430.76H483.5V444.3H469.5zM217.5 471.37H231.5V484.91H217.5zM511.5 511.98H525.5V525.52H511.5zM343.5 539.06H357.5V552.6H343.5zM567.5 606.74H581.5V620.28H567.5zM987.5 660.89H1001.5V674.43H987.5zM973.5 674.43H987.5V687.97H973.5zM483.5 701.5H497.5V715.04H483.5zM917.5 701.5H945.5V715.04H917.5zM1071.5 701.5H1085.5V715.04H1071.5zM679.5 715.04H693.5V728.58H679.5zM483.5 769.19H497.5V782.72H483.5zM777.5 769.19H791.5V782.72H777.5zM511.5 796.26H525.5V809.8H511.5zM581.5 796.26H595.5V809.8H581.5zM1015.5 796.26H1029.5V809.8H1015.5zM861.5 809.8H875.5V823.34H861.5zM1113.5 823.34H1127.5V836.87H1113.5zM749.5 931.63H763.5V945.17H749.5zM1099.5 945.17H1113.5V958.71H1099.5zM1155.5 945.17H1169.5V958.71H1155.5zM273.5 958.71H287.5V972.24H273.5zM1211.5 958.71H1239.5V972.24H1211.5zM1113.5 972.24H1127.5V985.78H1113.5zM217.5 985.78H231.5V999.32H217.5zM259.5 999.32H273.5V1012.85H259.5zM315.5 999.32H329.5V1012.85H315.5zM273.5 1012.85H287.5V1026.39H273.5zM287.5 1053.46H301.5V1067H287.5zM819.5 1053.46H833.5V1067H819.5z"/>
<path fill="#50a9af" d="M595.5 78.8H609.5V92.34H595.5zM861.5 78.8H875.5V92.34H861.5zM595.5 92.34H609.5V105.87H595.5zM861.5 92.34H875.5V105.87H861.5zM273.5 119.41H287.5V132.95H273.5zM497.5 119.41H511.5V132.95H497.5zM1085.5 119.41H1099.5V132.95H1085.5zM973.5 160.02H987.5V173.56H973.5zM987.5 173.56H1001.5V187.1H987.5zM1183.5 214.17H1197.5V227.71H1183.5zM651.5 268.32H665.5V281.86H651.5zM329.5 281.86H343.5V295.39H329.5zM651.5 281.86H665.5V295.39H651.5zM1127.5 308.93H1141.5V322.47H1127.5zM1141.5 322.47H1155.5V336H1141.5zM483.5 336H497.5V349.54H483.5zM679.5 349.54H693.5V363.08H679.5zM679.5 430.76H693.5V444.3H679.5zM1211.5 430.76H1239.5V444.3H1211.5zM511.5 525.52H525.5V539.06H511.5zM511.5 539.06H525.5V552.6H511.5zM511.5 552.6H525.5V566.13H511.5zM343.5 579.67H357.5V593.21H343.5zM343.5 593.21H357.5V606.74H343.5zM595.5 606.74H609.5V620.28H595.5zM861.5 606.74H875.5V620.28H861.5zM945.5 606.74H959.5V620.28H945.5zM1015.5 633.82H1043.5V647.35H1015.5zM511.5 687.97H525.5V701.5H511.5zM679.5 687.97H693.5V701.5H679.5zM1211.5 687.97H1239.5V701.5H1211.5zM595.5 769.19H609.5V782.72H595.5zM735.5 769.19H777.5V782.72H735.5zM329.5 782.72H343.5V796.26H329.5zM1183.5 782.72H1197.5V796.26H1183.5zM301.5 796.26H315.5V809.8H301.5zM959.5 796.26H973.5V809.8H959.5zM259.5 863.95H273.5V877.48H259.5zM259.5 877.48H273.5V891.02H259.5zM693.5 931.63H721.5V945.17H693.5zM287.5 945.17H301.5V958.71H287.5zM497.5 945.17H511.5V958.71H497.5zM1015.5 945.17H1029.5V958.71H1015.5zM483.5 972.24H497.5V985.78H483.5zM329.5 985.78H343.5V999.32H329.5zM1183.5 999.32H1197.5V1012.85H1183.5zM175.5 1012.85H217.5V1026.39H175.5zM399.5 1012.85H427.5V1026.39H399.5zM259.5 1067H273.5V1080.54H259.5zM259.5 1080.54H273.5V1094.08H259.5zM259.5 1094.08H273.5V1107.61H259.5z"/>
<path fill="#56b0ad" d="M175.5 119.41H217.5V132.95H175.5zM399.5 119.41H427.5V132.95H399.5zM441.5 132.95H455.5V146.49H441.5zM1015.5 132.95H1043.5V146.49H1015.5zM1127.5 160.02H1141.5V173.56H1127.5zM301.5 173.56H315.5V187.1H301.5zM1141.5 173.56H1155.5V187.1H1141.5zM987.5 187.1H1001.5V200.63H987.5zM217.5 200.63H231.5V214.17H217.5zM1169.5 268.32H1183.5V281.86H1169.5zM595.5 281.86H609.5V295.39H595.5zM1169.5 281.86H1183.5V295.39H1169.5zM609.5 295.39H623.5V308.93H609.5zM1113.5 308.93H1127.5V322.47H1113.5zM609.5 336H623.5V349.54H609.5zM343.5 525.52H357.5V539.06H343.5zM343.5 566.13H357.5V579.67H343.5zM959.5 674.43H973.5V687.97H959.5zM1001.5 674.43H1015.5V687.97H1001.5zM455.5 687.97H469.5V701.5H455.5zM1015.5 687.97H1029.5V701.5H1015.5zM483.5 715.04H497.5V728.58H483.5zM567.5 796.26H581.5V809.8H567.5zM595.5 823.34H609.5V836.87H595.5zM1169.5 836.87H1183.5V850.41H1169.5zM1183.5 863.95H1197.5V877.48H1183.5zM1183.5 877.48H1197.5V891.02H1183.5zM721.5 931.63H735.5V945.17H721.5zM763.5 931.63H777.5V945.17H763.5zM1127.5 972.24H1141.5V985.78H1127.5zM1099.5 1053.46H1113.5V1067H1099.5zM1183.5 1067H1197.5V1080.54H1183.5zM1183.5 1080.54H1197.5V1094.08H1183.5zM1183.5 1094.08H1197.5V1107.61H1183.5z"/>
<path fill="#5cb7aa" d="M329.5 160.02H343.5V173.56H329.5zM1029.5 160.02H1043.5V173.56H1029.5zM917.5 268.32H945.5V281.86H917.5zM1141.5 268.32H1155.5V281.86H1141.5zM1029.5 363.08H1043.5V376.61H1029.5zM1029.5 376.61H1043.5V390.15H1029.5zM1141.5 945.17H1155.5V958.71H1141.5z"/>
<path fill="#60bba8" d="M987.5 105.87H1001.5V119.41H987.5zM637.5 146.49H651.5V160.02H637.5zM637.5 160.02H651.5V173.56H637.5zM1043.5 160.02H1071.5V173.56H1043.5zM1015.5 187.1H1029.5V200.63H1015.5zM917.5 200.63H945.5V214.17H917.5zM1141.5 241.24H1155.5V254.78H1141.5zM1141.5 254.78H1155.5V268.32H1141.5zM483.5 268.32H497.5V281.86H483.5zM1113.5 281.86H1127.5V295.39H1113.5zM651.5 295.39H665.5V308.93H651.5zM1197.5 308.93H1211.5V322.47H1197.5zM329.5 336H343.5V349.54H329.5zM1099.5 363.08H1113.5V376.61H1099.5zM1099.5 376.61H1113.5V390.15H1099.5zM553.5 606.74H567.5V620.28H553.5zM623.5 633.82H637.5V647.35H623.5zM1001.5 633.82H1015.5V647.35H1001.5zM1141.5 647.35H1169.5V660.89H1141.5zM651.5 660.89H665.5V674.43H651.5zM329.5 701.5H343.5V715.04H329.5zM679.5 728.58H693.5V742.11H679.5zM1029.5 796.26H1043.5V809.8H1029.5zM259.5 931.63H273.5V945.17H259.5zM581.5 945.17H595.5V958.71H581.5zM959.5 945.17H973.5V958.71H959.5zM343.5 1012.85H357.5V1026.39H343.5z"/>
<path fill="#66c2a5" d="M1141.5 78.8H1155.5V92.34H1141.5zM1141.5 92.34H1155.5V105.87H1141.5zM287.5 105.87H301.5V119.41H287.5zM1001.5 132.95H1015.5V146.49H1001.5zM1015.5 146.49H1029.5V160.02H1015.5zM1211.5 160.02H1239.5V173.56H1211.5zM1071.5 200.63H1085.5V214.17H1071.5zM1099.5 227.71H1113.5V241.24H1099.5zM595.5 241.24H609.5V254.78H595.5zM595.5 254.78H609.5V268.32H595.5zM595.5 268.32H609.5V281.86H595.5zM1155.5 281.86H1169.5V295.39H1155.5zM1169.5 295.39H1183.5V308.93H1169.5zM483.5 322.47H497.5V336H483.5zM651.5 322.47H665.5V336H651.5zM679.5 403.69H693.5V417.23H679.5zM595.5 417.23H609.5V430.76H595.5zM399.5 457.84H427.5V471.37H399.5zM889.5 606.74H903.5V620.28H889.5zM511.5 633.82H525.5V647.35H511.5zM609.5 633.82H623.5V647.35H609.5zM973.5 633.82H987.5V647.35H973.5zM651.5 674.43H665.5V687.97H651.5zM875.5 687.97H889.5V701.5H875.5zM1029.5 687.97H1071.5V701.5H1029.5zM217.5 742.11H231.5V755.65H217.5zM217.5 755.65H231.5V769.19H217.5zM651.5 769.19H665.5V782.72H651.5zM973.5 796.26H987.5V809.8H973.5zM301.5 850.41H315.5V863.95H301.5zM833.5 863.95H847.5V877.48H833.5zM833.5 877.48H847.5V891.02H833.5zM217.5 891.02H231.5V904.56H217.5zM217.5 904.56H231.5V918.09H217.5zM217.5 918.09H231.5V931.63H217.5zM427.5 972.24H441.5V985.78H427.5zM1197.5 985.78H1211.5V999.32H1197.5zM357.5 1053.46H399.5V1067H357.5zM525.5 1053.46H553.5V1067H525.5z"/>
<path fill="#6bc4a5" d="M889.5 132.95H903.5V146.49H889.5zM973.5 132.95H987.5V146.49H973.5zM1015.5 160.02H1029.5V173.56H1015.5zM483.5 241.24H497.5V254.78H483.5zM483.5 254.78H497.5V268.32H483.5zM1141.5 281.86H1155.5V295.39H1141.5zM1169.5 322.47H1183.5V336H1169.5zM1169.5 403.69H1183.5V417.23H1169.5zM791.5 417.23H819.5V430.76H791.5zM343.5 430.76H357.5V444.3H343.5zM175.5 457.84H217.5V471.37H175.5zM273.5 457.84H287.5V471.37H273.5zM875.5 484.91H889.5V498.45H875.5zM875.5 498.45H889.5V511.98H875.5zM343.5 620.28H357.5V633.82H343.5zM1043.5 796.26H1071.5V809.8H1043.5zM665.5 931.63H679.5V945.17H665.5zM861.5 931.63H875.5V945.17H861.5zM833.5 999.32H847.5V1012.85H833.5zM833.5 1067H847.5V1080.54H833.5zM833.5 1080.54H847.5V1094.08H833.5zM833.5 1094.08H847.5V1107.61H833.5z"/>
<path fill="#74c7a5" d="M959.5 105.87H973.5V119.41H959.5zM1099.5 105.87H1113.5V119.41H1099.5zM175.5 200.63H217.5V214.17H175.5zM273.5 200.63H287.5V214.17H273.5zM399.5 200.63H427.5V214.17H399.5zM1197.5 200.63H1211.5V214.17H1197.5zM217.5 214.17H231.5V227.71H217.5zM1029.5 227.71H1043.5V241.24H1029.5zM329.5 268.32H343.5V281.86H329.5zM1071.5 268.32H1085.5V281.86H1071.5zM483.5 295.39H497.5V308.93H483.5zM861.5 295.39H875.5V308.93H861.5zM861.5 322.47H875.5V336H861.5zM1197.5 336H1211.5V349.54H1197.5zM973.5 430.76H987.5V444.3H973.5zM1001.5 430.76H1015.5V444.3H1001.5zM511.5 471.37H525.5V484.91H511.5zM469.5 687.97H483.5V701.5H469.5zM819.5 769.19H833.5V782.72H819.5zM287.5 782.72H301.5V796.26H287.5zM1001.5 796.26H1015.5V809.8H1001.5zM595.5 809.8H609.5V823.34H595.5zM1099.5 863.95H1113.5V877.48H1099.5zM1099.5 877.48H1113.5V891.02H1099.5zM1029.5 945.17H1043.5V958.71H1029.5zM497.5 985.78H511.5V999.32H497.5zM1099.5 999.32H1113.5V1012.85H1099.5zM1085.5 1053.46H1099.5V1067H1085.5zM1099.5 1067H1113.5V1080.54H1099.5zM1099.5 1080.54H1113.5V1094.08H1099.5zM1099.5 1094.08H1113.5V1107.61H1099.5z"/>
<path fill="#79c9a5" d="M1099.5 146.49H1113.5V160.02H1099.5zM1099.5 160.02H1113.5V173.56H1099.5zM1015.5 173.56H1029.5V187.1H1015.5zM1141.5 200.63H1169.5V214.17H1141.5zM861.5 254.78H875.5V268.32H861.5zM1127.5 281.86H1141.5V295.39H1127.5zM875.5 308.93H889.5V322.47H875.5zM329.5 322.47H343.5V336H329.5zM637.5 363.08H651.5V376.61H637.5zM637.5 376.61H651.5V390.15H637.5zM875.5 390.15H889.5V403.69H875.5zM903.5 417.23H917.5V430.76H903.5zM987.5 417.23H1001.5V430.76H987.5zM609.5 430.76H623.5V444.3H609.5zM1043.5 430.76H1057.5V444.3H1043.5zM651.5 444.3H665.5V457.84H651.5zM791.5 444.3H819.5V457.84H791.5zM315.5 457.84H329.5V471.37H315.5zM623.5 484.91H637.5V498.45H623.5zM847.5 484.91H861.5V498.45H847.5zM623.5 498.45H637.5V511.98H623.5zM847.5 498.45H861.5V511.98H847.5zM651.5 606.74H665.5V620.28H651.5zM553.5 633.82H567.5V647.35H553.5zM679.5 633.82H693.5V647.35H679.5zM847.5 633.82H861.5V647.35H847.5zM595.5 647.35H609.5V660.89H595.5zM917.5 647.35H945.5V660.89H917.5zM791.5 660.89H819.5V674.43H791.5zM511.5 674.43H525.5V687.97H511.5zM861.5 674.43H875.5V687.97H861.5zM637.5 687.97H651.5V701.5H637.5zM651.5 728.58H665.5V742.11H651.5zM259.5 769.19H273.5V782.72H259.5zM609.5 769.19H623.5V782.72H609.5zM329.5 809.8H343.5V823.34H329.5zM301.5 945.17H315.5V958.71H301.5zM469.5 945.17H483.5V958.71H469.5zM973.5 945.17H987.5V958.71H973.5zM833.5 958.71H847.5V972.24H833.5zM329.5 972.24H343.5V985.78H329.5zM511.5 1012.85H525.5V1026.39H511.5z"/>
<path fill="#81cda5" d="M1029.5 187.1H1043.5V200.63H1029.5zM861.5 241.24H875.5V254.78H861.5zM1113.5 268.32H1127.5V281.86H1113.5zM861.5 281.86H875.5V295.39H861.5zM875.5 349.54H889.5V363.08H875.5zM945.5 417.23H959.5V430.76H945.5zM567.5 430.76H581.5V444.3H567.5zM847.5 430.76H861.5V444.3H847.5zM1015.5 430.76H1029.5V444.3H1015.5zM1057.5 430.76H1071.5V444.3H1057.5zM861.5 444.3H875.5V457.84H861.5zM665.5 484.91H679.5V498.45H665.5zM665.5 498.45H679.5V511.98H665.5zM217.5 511.98H231.5V525.52H217.5zM511.5 606.74H525.5V620.28H511.5zM791.5 620.28H819.5V633.82H791.5zM567.5 633.82H581.5V647.35H567.5zM483.5 674.43H497.5V687.97H483.5zM651.5 715.04H665.5V728.58H651.5zM861.5 715.04H875.5V728.58H861.5zM259.5 742.11H273.5V755.65H259.5zM259.5 755.65H273.5V769.19H259.5zM679.5 769.19H693.5V782.72H679.5zM301.5 782.72H315.5V796.26H301.5zM609.5 796.26H623.5V809.8H609.5zM287.5 850.41H301.5V863.95H287.5zM259.5 891.02H273.5V904.56H259.5zM259.5 904.56H273.5V918.09H259.5zM259.5 918.09H273.5V931.63H259.5zM497.5 972.24H511.5V985.78H497.5zM427.5 985.78H441.5V999.32H427.5zM357.5 1012.85H399.5V1026.39H357.5zM525.5 1012.85H553.5V1026.39H525.5zM777.5 1053.46H791.5V1067H777.5z"/>
<path fill="#89d0a4" d="M301.5 105.87H315.5V119.41H301.5zM217.5 119.41H231.5V132.95H217.5zM301.5 119.41H315.5V132.95H301.5zM595.5 132.95H609.5V146.49H595.5zM581.5 187.1H595.5V200.63H581.5zM427.5 200.63H441.5V214.17H427.5zM637.5 227.71H651.5V241.24H637.5zM329.5 241.24H343.5V254.78H329.5zM329.5 295.39H343.5V308.93H329.5zM595.5 295.39H609.5V308.93H595.5zM623.5 390.15H637.5V403.69H623.5zM441.5 606.74H455.5V620.28H441.5zM1071.5 647.35H1085.5V660.89H1071.5zM903.5 660.89H917.5V674.43H903.5zM1001.5 687.97H1015.5V701.5H1001.5zM1169.5 687.97H1183.5V701.5H1169.5zM1113.5 701.5H1127.5V715.04H1113.5zM343.5 715.04H357.5V728.58H343.5zM679.5 836.87H693.5V850.41H679.5zM1099.5 850.41H1113.5V863.95H1099.5zM567.5 931.63H581.5V945.17H567.5zM1001.5 945.17H1015.5V958.71H1001.5zM1057.5 945.17H1071.5V958.71H1057.5zM1183.5 972.24H1211.5V985.78H1183.5zM1183.5 1053.46H1197.5V1067H1183.5z"/>
<path fill="#8fd2a4" d="M1015.5 105.87H1029.5V119.41H1015.5zM581.5 132.95H595.5V146.49H581.5zM483.5 214.17H497.5V227.71H483.5zM861.5 268.32H875.5V281.86H861.5zM917.5 281.86H945.5V295.39H917.5zM1197.5 281.86H1211.5V295.39H1197.5zM1015.5 363.08H1029.5V376.61H1015.5zM1015.5 376.61H1029.5V390.15H1015.5zM847.5 390.15H861.5V403.69H847.5zM735.5 403.69H749.5V417.23H735.5zM1029.5 430.76H1043.5V444.3H1029.5zM903.5 444.3H917.5V457.84H903.5zM735.5 484.91H749.5V498.45H735.5zM735.5 498.45H749.5V511.98H735.5zM259.5 511.98H273.5V525.52H259.5zM791.5 552.6H819.5V566.13H791.5zM889.5 552.6H903.5V566.13H889.5zM1169.5 701.5H1183.5V715.04H1169.5zM1085.5 796.26H1099.5V809.8H1085.5zM329.5 823.34H343.5V836.87H329.5zM455.5 945.17H469.5V958.71H455.5zM777.5 1012.85H791.5V1026.39H777.5z"/>
<path fill="#97d5a4" d="M483.5 78.8H497.5V92.34H483.5zM483.5 92.34H497.5V105.87H483.5zM1141.5 119.41H1155.5V132.95H1141.5zM1183.5 160.02H1197.5V173.56H1183.5zM287.5 200.63H301.5V214.17H287.5zM1015.5 227.71H1029.5V241.24H1015.5zM329.5 254.78H343.5V268.32H329.5zM1071.5 281.86H1085.5V295.39H1071.5zM623.5 349.54H637.5V363.08H623.5zM847.5 349.54H861.5V363.08H847.5zM665.5 390.15H679.5V403.69H665.5zM735.5 390.15H749.5V403.69H735.5zM581.5 430.76H595.5V444.3H581.5zM343.5 444.3H357.5V457.84H343.5zM945.5 444.3H959.5V457.84H945.5zM217.5 457.84H231.5V471.37H217.5zM497.5 457.84H511.5V471.37H497.5zM231.5 471.37H259.5V484.91H231.5zM357.5 471.37H399.5V484.91H357.5zM525.5 471.37H553.5V484.91H525.5zM343.5 552.6H357.5V566.13H343.5zM903.5 552.6H917.5V566.13H903.5zM903.5 620.28H917.5V633.82H903.5zM637.5 633.82H651.5V647.35H637.5zM651.5 647.35H665.5V660.89H651.5zM945.5 660.89H959.5V674.43H945.5zM861.5 701.5H875.5V715.04H861.5zM819.5 742.11H833.5V755.65H819.5zM819.5 755.65H833.5V769.19H819.5zM833.5 782.72H847.5V796.26H833.5zM1211.5 796.26H1239.5V809.8H1211.5zM819.5 891.02H833.5V904.56H819.5zM819.5 904.56H833.5V918.09H819.5zM819.5 918.09H833.5V931.63H819.5zM735.5 931.63H749.5V945.17H735.5zM847.5 931.63H861.5V945.17H847.5zM1043.5 945.17H1057.5V958.71H1043.5zM1099.5 985.78H1113.5V999.32H1099.5zM819.5 1026.39H833.5V1039.93H819.5zM819.5 1039.93H833.5V1053.46H819.5zM833.5 1053.46H847.5V1067H833.5z"/>
<path fill="#9cd7a4" d="M973.5 105.87H987.5V119.41H973.5zM1001.5 105.87H1015.5V119.41H1001.5zM1029.5 173.56H1043.5V187.1H1029.5zM301.5 200.63H329.5V214.17H301.5zM1127.5 268.32H1141.5V281.86H1127.5zM1197.5 295.39H1211.5V308.93H1197.5zM595.5 322.47H609.5V336H595.5zM1197.5 322.47H1211.5V336H1197.5zM721.5 403.69H735.5V417.23H721.5zM777.5 471.37H791.5V484.91H777.5zM819.5 511.98H833.5V525.52H819.5zM889.5 566.13H903.5V579.67H889.5zM973.5 687.97H987.5V701.5H973.5zM1099.5 958.71H1113.5V972.24H1099.5zM1099.5 972.24H1113.5V985.78H1099.5zM231.5 1012.85H259.5V1026.39H231.5zM259.5 1026.39H273.5V1039.93H259.5zM259.5 1039.93H273.5V1053.46H259.5z"/>
<path fill="#a4daa4" d="M1029.5 105.87H1043.5V119.41H1029.5zM1155.5 119.41H1169.5V132.95H1155.5zM959.5 132.95H973.5V146.49H959.5zM1183.5 146.49H1197.5V160.02H1183.5zM959.5 173.56H973.5V187.1H959.5zM1085.5 173.56H1099.5V187.1H1085.5zM833.5 214.17H847.5V227.71H833.5zM1127.5 214.17H1141.5V227.71H1127.5zM1197.5 268.32H1211.5V281.86H1197.5zM1127.5 336H1141.5V349.54H1127.5zM1169.5 336H1183.5V349.54H1169.5zM693.5 403.69H721.5V417.23H693.5zM749.5 403.69H777.5V417.23H749.5zM1085.5 457.84H1099.5V471.37H1085.5zM707.5 484.91H735.5V498.45H707.5zM749.5 484.91H777.5V498.45H749.5zM707.5 498.45H735.5V511.98H707.5zM749.5 498.45H777.5V511.98H749.5zM791.5 525.52H819.5V539.06H791.5zM889.5 525.52H903.5V539.06H889.5zM791.5 539.06H819.5V552.6H791.5zM889.5 539.06H903.5V552.6H889.5zM791.5 566.13H819.5V579.67H791.5zM791.5 579.67H819.5V593.21H791.5zM889.5 579.67H903.5V593.21H889.5zM889.5 593.21H903.5V606.74H889.5zM455.5 769.19H469.5V782.72H455.5zM511.5 823.34H525.5V836.87H511.5zM287.5 958.71H301.5V972.24H287.5zM315.5 985.78H329.5V999.32H315.5z"/>
<path fill="#aadca4" d="M329.5 78.8H343.5V92.34H329.5zM329.5 92.34H343.5V105.87H329.5zM581.5 105.87H595.5V119.41H581.5zM427.5 119.41H441.5V132.95H427.5zM581.5 173.56H595.5V187.1H581.5zM1085.5 187.1H1099.5V200.63H1085.5zM287.5 214.17H301.5V227.71H287.5zM427.5 214.17H441.5V227.71H427.5zM1113.5 214.17H1127.5V227.71H1113.5zM637.5 295.39H651.5V308.93H637.5zM637.5 322.47H651.5V336H637.5zM651.5 336H665.5V349.54H651.5zM665.5 349.54H679.5V363.08H665.5zM693.5 390.15H707.5V403.69H693.5zM749.5 390.15H777.5V403.69H749.5zM693.5 417.23H721.5V430.76H693.5zM763.5 417.23H777.5V430.76H763.5zM693.5 484.91H707.5V498.45H693.5zM693.5 498.45H707.5V511.98H693.5zM875.5 525.52H889.5V539.06H875.5zM903.5 525.52H917.5V539.06H903.5zM903.5 539.06H917.5V552.6H903.5zM875.5 579.67H889.5V593.21H875.5zM791.5 593.21H819.5V606.74H791.5zM875.5 593.21H889.5V606.74H875.5zM903.5 593.21H917.5V606.74H903.5zM945.5 620.28H959.5V633.82H945.5zM959.5 633.82H973.5V647.35H959.5zM973.5 647.35H987.5V660.89H973.5zM1001.5 647.35H1015.5V660.89H1001.5zM553.5 687.97H567.5V701.5H553.5zM1127.5 701.5H1141.5V715.04H1127.5zM1197.5 701.5H1211.5V715.04H1197.5zM511.5 715.04H525.5V728.58H511.5zM595.5 728.58H609.5V742.11H595.5zM567.5 769.19H581.5V782.72H567.5zM1085.5 850.41H1099.5V863.95H1085.5zM1183.5 850.41H1197.5V863.95H1183.5zM1211.5 945.17H1239.5V958.71H1211.5zM1085.5 985.78H1099.5V999.32H1085.5z"/>
<path fill="#b1dfa3" d="M287.5 119.41H301.5V132.95H287.5zM973.5 173.56H987.5V187.1H973.5zM833.5 200.63H847.5V214.17H833.5zM1127.5 322.47H1141.5V336H1127.5zM637.5 336H651.5V349.54H637.5zM861.5 336H875.5V349.54H861.5zM707.5 390.15H735.5V403.69H707.5zM665.5 403.69H679.5V417.23H665.5zM847.5 403.69H861.5V417.23H847.5zM441.5 417.23H455.5V430.76H441.5zM651.5 417.23H665.5V430.76H651.5zM721.5 417.23H763.5V430.76H721.5zM959.5 430.76H973.5V444.3H959.5zM889.5 444.3H903.5V457.84H889.5zM1099.5 457.84H1113.5V471.37H1099.5zM875.5 539.06H889.5V552.6H875.5zM875.5 552.6H889.5V566.13H875.5zM875.5 566.13H889.5V579.67H875.5zM903.5 566.13H917.5V579.67H903.5zM903.5 579.67H917.5V593.21H903.5zM889.5 620.28H903.5V633.82H889.5zM875.5 633.82H889.5V647.35H875.5zM959.5 647.35H973.5V660.89H959.5zM875.5 836.87H889.5V850.41H875.5zM1183.5 985.78H1197.5V999.32H1183.5zM217.5 1012.85H231.5V1026.39H217.5zM259.5 1053.46H273.5V1067H259.5z"/>
<path fill="#b5e1a2" d="M637.5 78.8H651.5V92.34H637.5zM637.5 92.34H651.5V105.87H637.5zM679.5 132.95H693.5V146.49H679.5zM959.5 187.1H973.5V200.63H959.5zM1113.5 336H1127.5V349.54H1113.5zM623.5 430.76H637.5V444.3H623.5zM441.5 444.3H455.5V457.84H441.5zM1169.5 606.74H1183.5V620.28H1169.5zM1211.5 647.35H1239.5V660.89H1211.5zM861.5 660.89H875.5V674.43H861.5zM847.5 836.87H861.5V850.41H847.5z"/>
<path fill="#bce4a0" d="M497.5 105.87H511.5V119.41H497.5zM665.5 132.95H679.5V146.49H665.5zM1001.5 173.56H1015.5V187.1H1001.5zM1057.5 187.1H1071.5V200.63H1057.5zM497.5 200.63H511.5V214.17H497.5zM1113.5 241.24H1127.5V254.78H1113.5zM1127.5 295.39H1141.5V308.93H1127.5zM427.5 457.84H441.5V471.37H427.5zM343.5 606.74H357.5V620.28H343.5zM1169.5 620.28H1183.5V633.82H1169.5zM581.5 633.82H595.5V647.35H581.5zM595.5 674.43H609.5V687.97H595.5zM343.5 687.97H357.5V701.5H343.5zM609.5 687.97H623.5V701.5H609.5zM651.5 701.5H665.5V715.04H651.5zM343.5 742.11H357.5V755.65H343.5zM343.5 755.65H357.5V769.19H343.5zM273.5 769.19H287.5V782.72H273.5zM1099.5 782.72H1113.5V796.26H1099.5zM1197.5 782.72H1211.5V796.26H1197.5zM833.5 850.41H847.5V863.95H833.5zM525.5 931.63H553.5V945.17H525.5zM595.5 931.63H609.5V945.17H595.5zM679.5 931.63H693.5V945.17H679.5zM511.5 999.32H525.5V1012.85H511.5z"/>
<path fill="#c3e79f" d="M1043.5 187.1H1057.5V200.63H1043.5zM1113.5 254.78H1127.5V268.32H1113.5zM679.5 417.23H693.5V430.76H679.5zM875.5 606.74H889.5V620.28H875.5zM567.5 687.97H581.5V701.5H567.5zM595.5 715.04H609.5V728.58H595.5zM343.5 891.02H357.5V904.56H343.5zM343.5 904.56H357.5V918.09H343.5zM343.5 918.09H357.5V931.63H343.5zM231.5 931.63H259.5V945.17H231.5zM357.5 931.63H399.5V945.17H357.5zM343.5 1026.39H357.5V1039.93H343.5zM343.5 1039.93H357.5V1053.46H343.5z"/>
<path fill="#c8e99e" d="M847.5 132.95H861.5V146.49H847.5zM301.5 214.17H315.5V227.71H301.5zM399.5 214.17H427.5V227.71H399.5zM735.5 349.54H749.5V363.08H735.5zM1169.5 444.3H1183.5V457.84H1169.5zM343.5 511.98H357.5V525.52H343.5zM945.5 552.6H959.5V566.13H945.5zM581.5 687.97H595.5V701.5H581.5zM595.5 701.5H609.5V715.04H595.5zM469.5 769.19H483.5V782.72H469.5zM511.5 809.8H525.5V823.34H511.5zM1085.5 863.95H1099.5V877.48H1085.5zM1085.5 877.48H1099.5V891.02H1085.5zM777.5 931.63H791.5V945.17H777.5zM301.5 958.71H315.5V972.24H301.5zM315.5 972.24H329.5V985.78H315.5zM1085.5 972.24H1099.5V985.78H1085.5z"/>
<path fill="#cfec9d" d="M833.5 119.41H847.5V132.95H833.5zM917.5 119.41H945.5V132.95H917.5zM1071.5 119.41H1085.5V132.95H1071.5zM861.5 132.95H875.5V146.49H861.5zM987.5 132.95H1001.5V146.49H987.5zM973.5 187.1H987.5V200.63H973.5zM1085.5 200.63H1099.5V214.17H1085.5zM1099.5 214.17H1113.5V227.71H1099.5zM1183.5 227.71H1197.5V241.24H1183.5zM1169.5 308.93H1183.5V322.47H1169.5zM1113.5 322.47H1127.5V336H1113.5zM595.5 336H609.5V349.54H595.5zM1183.5 363.08H1197.5V376.61H1183.5zM1183.5 376.61H1197.5V390.15H1183.5zM1169.5 430.76H1183.5V444.3H1169.5zM1183.5 457.84H1197.5V471.37H1183.5zM623.5 525.52H637.5V539.06H623.5zM441.5 552.6H455.5V566.13H441.5zM623.5 552.6H637.5V566.13H623.5zM441.5 660.89H455.5V674.43H441.5zM735.5 660.89H749.5V674.43H735.5zM763.5 660.89H777.5V674.43H763.5zM959.5 687.97H973.5V701.5H959.5zM455.5 728.58H483.5V742.11H455.5zM217.5 782.72H231.5V796.26H217.5zM315.5 782.72H329.5V796.26H315.5zM553.5 809.8H567.5V823.34H553.5zM553.5 823.34H567.5V836.87H553.5zM623.5 836.87H637.5V850.41H623.5zM735.5 836.87H749.5V850.41H735.5zM497.5 958.71H511.5V972.24H497.5zM217.5 1026.39H231.5V1039.93H217.5zM245.5 1053.46H259.5V1067H245.5zM497.5 1053.46H511.5V1067H497.5z"/>
<path fill="#d3ed9c" d="M987.5 78.8H1001.5V92.34H987.5zM987.5 92.34H1001.5V105.87H987.5zM1057.5 105.87H1071.5V119.41H1057.5zM651.5 132.95H665.5V146.49H651.5zM175.5 214.17H217.5V227.71H175.5zM273.5 214.17H287.5V227.71H273.5zM1197.5 241.24H1211.5V254.78H1197.5zM1211.5 308.93H1239.5V322.47H1211.5zM637.5 430.76H651.5V444.3H637.5zM623.5 539.06H637.5V552.6H623.5zM623.5 566.13H637.5V579.67H623.5zM441.5 579.67H455.5V593.21H441.5zM623.5 579.67H637.5V593.21H623.5zM441.5 593.21H455.5V606.74H441.5zM623.5 593.21H637.5V606.74H623.5zM1169.5 633.82H1183.5V647.35H1169.5zM861.5 647.35H875.5V660.89H861.5zM693.5 660.89H735.5V674.43H693.5zM749.5 660.89H763.5V674.43H749.5zM693.5 836.87H721.5V850.41H693.5zM1085.5 999.32H1099.5V1012.85H1085.5zM1085.5 1067H1099.5V1080.54H1085.5zM1085.5 1080.54H1099.5V1094.08H1085.5zM1085.5 1094.08H1099.5V1107.61H1085.5z"/>
<path fill="#daf09a" d="M637.5 254.78H651.5V268.32H637.5zM1043.5 647.35H1057.5V660.89H1043.5zM217.5 1039.93H231.5V1053.46H217.5zM231.5 1053.46H245.5V1067H231.5z"/>
<path fill="#dff299" d="M1043.5 105.87H1057.5V119.41H1043.5zM1001.5 187.1H1015.5V200.63H1001.5zM1197.5 254.78H1211.5V268.32H1197.5zM1113.5 295.39H1127.5V308.93H1113.5z"/>
<path fill="#e6f598" d="M1113.5 78.8H1127.5V92.34H1113.5zM1113.5 92.34H1127.5V105.87H1113.5zM1211.5 187.1H1239.5V200.63H1211.5zM959.5 281.86H973.5V295.39H959.5zM1015.5 336H1029.5V349.54H1015.5zM693.5 349.54H707.5V363.08H693.5zM749.5 349.54H777.5V363.08H749.5zM945.5 525.52H959.5V539.06H945.5zM945.5 539.06H959.5V552.6H945.5zM945.5 593.21H959.5V606.74H945.5zM441.5 620.28H455.5V633.82H441.5zM665.5 836.87H679.5V850.41H665.5z"/>
<path fill="#e8f69b" d="M1197.5 78.8H1211.5V92.34H1197.5zM1197.5 92.34H1211.5V105.87H1197.5zM1211.5 105.87H1239.5V119.41H1211.5zM721.5 349.54H735.5V363.08H721.5zM875.5 403.69H889.5V417.23H875.5zM637.5 417.23H651.5V430.76H637.5zM889.5 417.23H903.5V430.76H889.5zM945.5 566.13H959.5V579.67H945.5zM623.5 606.74H637.5V620.28H623.5zM343.5 633.82H357.5V647.35H343.5zM623.5 647.35H637.5V660.89H623.5zM875.5 647.35H889.5V660.89H875.5zM637.5 660.89H651.5V674.43H637.5zM679.5 660.89H693.5V674.43H679.5zM651.5 931.63H665.5V945.17H651.5zM217.5 999.32H231.5V1012.85H217.5zM273.5 1053.46H287.5V1067H273.5z"/>
<path fill="#ebf7a0" d="M637.5 132.95H651.5V146.49H637.5zM1057.5 173.56H1071.5V187.1H1057.5zM1127.5 241.24H1141.5V254.78H1127.5zM707.5 349.54H721.5V363.08H707.5zM441.5 525.52H455.5V539.06H441.5zM945.5 579.67H959.5V593.21H945.5zM1169.5 647.35H1183.5V660.89H1169.5zM511.5 728.58H525.5V742.11H511.5zM553.5 769.19H567.5V782.72H553.5zM763.5 836.87H777.5V850.41H763.5z"/>
<path fill="#eef8a4" d="M329.5 214.17H343.5V227.71H329.5zM637.5 241.24H651.5V254.78H637.5zM1057.5 647.35H1071.5V660.89H1057.5zM343.5 728.58H357.5V742.11H343.5zM343.5 769.19H357.5V782.72H343.5zM511.5 931.63H525.5V945.17H511.5zM553.5 931.63H567.5V945.17H553.5zM1085.5 945.17H1099.5V958.71H1085.5z"/>
<path fill="#f0f9a7" d="M1043.5 173.56H1057.5V187.1H1043.5zM987.5 254.78H1001.5V268.32H987.5zM1127.5 254.78H1141.5V268.32H1127.5zM1043.5 308.93H1057.5V322.47H1043.5zM623.5 403.69H637.5V417.23H623.5zM665.5 417.23H679.5V430.76H665.5zM441.5 566.13H455.5V579.67H441.5zM875.5 620.28H889.5V633.82H875.5zM889.5 660.89H903.5V674.43H889.5zM721.5 836.87H735.5V850.41H721.5z"/>
<path fill="#f3faac" d="M483.5 105.87H497.5V119.41H483.5zM987.5 241.24H1001.5V254.78H987.5zM973.5 281.86H987.5V295.39H973.5zM1057.5 308.93H1071.5V322.47H1057.5zM1015.5 322.47H1029.5V336H1015.5zM441.5 539.06H455.5V552.6H441.5zM1197.5 796.26H1211.5V809.8H1197.5zM749.5 836.87H763.5V850.41H749.5z"/>
<path fill="#f5fbaf" d="M483.5 187.1H497.5V200.63H483.5zM1001.5 281.86H1015.5V295.39H1001.5zM1015.5 295.39H1029.5V308.93H1015.5zM861.5 308.93H875.5V322.47H861.5zM861.5 417.23H875.5V430.76H861.5zM875.5 430.76H889.5V444.3H875.5zM987.5 430.76H1001.5V444.3H987.5zM315.5 796.26H329.5V809.8H315.5zM1113.5 796.26H1127.5V809.8H1113.5zM483.5 958.71H497.5V972.24H483.5z"/>
<path fill="#f8fcb4" d="M483.5 173.56H497.5V187.1H483.5zM1127.5 796.26H1141.5V809.8H1127.5z"/>
<path fill="#fafdb7" d="M623.5 132.95H637.5V146.49H623.5zM959.5 268.32H973.5V281.86H959.5zM987.5 295.39H1001.5V308.93H987.5zM1001.5 308.93H1015.5V322.47H1001.5zM1029.5 336H1043.5V349.54H1029.5zM1169.5 660.89H1183.5V674.43H1169.5z"/>
<path fill="#fdfebb" d="M1127.5 78.8H1141.5V92.34H1127.5zM1127.5 92.34H1141.5V105.87H1127.5zM1211.5 173.56H1239.5V187.1H1211.5zM987.5 268.32H1001.5V281.86H987.5zM987.5 281.86H1001.5V295.39H987.5zM973.5 308.93H987.5V322.47H973.5zM1015.5 308.93H1043.5V322.47H1015.5zM987.5 322.47H1001.5V336H987.5zM623.5 620.28H637.5V633.82H623.5zM581.5 647.35H595.5V660.89H581.5zM665.5 660.89H679.5V674.43H665.5zM637.5 701.5H651.5V715.04H637.5zM469.5 715.04H483.5V728.58H469.5zM567.5 809.8H581.5V823.34H567.5z"/>
<path fill="#fffebe" d="M959.5 78.8H973.5V92.34H959.5zM959.5 92.34H973.5V105.87H959.5zM1085.5 105.87H1099.5V119.41H1085.5zM875.5 132.95H889.5V146.49H875.5zM1197.5 214.17H1211.5V227.71H1197.5zM973.5 268.32H987.5V281.86H973.5zM1001.5 268.32H1015.5V281.86H1001.5zM581.5 295.39H595.5V308.93H581.5zM1029.5 295.39H1043.5V308.93H1029.5zM595.5 308.93H609.5V322.47H595.5zM581.5 322.47H595.5V336H581.5zM1029.5 322.47H1043.5V336H1029.5zM581.5 336H595.5V349.54H581.5zM1211.5 336H1239.5V349.54H1211.5zM1169.5 417.23H1183.5V430.76H1169.5zM707.5 444.3H735.5V457.84H707.5zM749.5 444.3H763.5V457.84H749.5zM679.5 525.52H693.5V539.06H679.5zM847.5 539.06H861.5V552.6H847.5zM847.5 566.13H861.5V579.67H847.5zM679.5 579.67H693.5V593.21H679.5zM847.5 579.67H861.5V593.21H847.5zM679.5 593.21H693.5V606.74H679.5zM693.5 606.74H721.5V620.28H693.5zM763.5 606.74H777.5V620.28H763.5zM987.5 687.97H1001.5V701.5H987.5zM959.5 701.5H987.5V715.04H959.5zM1001.5 701.5H1015.5V715.04H1001.5zM455.5 715.04H469.5V728.58H455.5zM567.5 823.34H581.5V836.87H567.5zM217.5 863.95H231.5V877.48H217.5zM217.5 877.48H231.5V891.02H217.5zM175.5 1053.46H217.5V1067H175.5zM399.5 1053.46H427.5V1067H399.5zM217.5 1067H231.5V1080.54H217.5zM217.5 1080.54H231.5V1094.08H217.5zM217.5 1094.08H231.5V1107.61H217.5z"/>
<path fill="#fffcba" d="M959.5 254.78H973.5V268.32H959.5zM651.5 308.93H665.5V322.47H651.5zM1043.5 336H1057.5V349.54H1043.5zM763.5 444.3H777.5V457.84H763.5zM847.5 525.52H861.5V539.06H847.5zM679.5 566.13H693.5V579.67H679.5zM721.5 606.74H735.5V620.28H721.5zM987.5 633.82H1001.5V647.35H987.5z"/>
<path fill="#fff8b4" d="M315.5 173.56H329.5V187.1H315.5zM959.5 241.24H973.5V254.78H959.5zM637.5 308.93H651.5V322.47H637.5zM1057.5 336H1071.5V349.54H1057.5zM693.5 444.3H707.5V457.84H693.5zM679.5 539.06H693.5V552.6H679.5zM847.5 593.21H861.5V606.74H847.5zM749.5 606.74H763.5V620.28H749.5zM987.5 647.35H1001.5V660.89H987.5zM1127.5 958.71H1141.5V972.24H1127.5z"/>
<path fill="#fff6b0" d="M315.5 187.1H329.5V200.63H315.5zM441.5 403.69H455.5V417.23H441.5zM679.5 444.3H693.5V457.84H679.5zM847.5 606.74H861.5V620.28H847.5zM889.5 836.87H903.5V850.41H889.5zM1113.5 958.71H1127.5V972.24H1113.5z"/>
<path fill="#fff2aa" d="M735.5 444.3H749.5V457.84H735.5zM847.5 552.6H861.5V566.13H847.5zM469.5 674.43H483.5V687.97H469.5zM273.5 782.72H287.5V796.26H273.5zM609.5 809.8H623.5V823.34H609.5zM497.5 999.32H511.5V1012.85H497.5z"/>
<path fill="#feec9f" d="M553.5 674.43H567.5V687.97H553.5zM609.5 728.58H623.5V742.11H609.5z"/>
<path fill="#feea9b" d="M581.5 78.8H595.5V92.34H581.5zM581.5 92.34H595.5V105.87H581.5zM329.5 105.87H343.5V119.41H329.5zM637.5 268.32H651.5V281.86H637.5zM581.5 281.86H595.5V295.39H581.5zM959.5 308.93H973.5V322.47H959.5zM987.5 336H1001.5V349.54H987.5zM847.5 417.23H861.5V430.76H847.5zM875.5 444.3H889.5V457.84H875.5zM679.5 552.6H693.5V566.13H679.5zM735.5 606.74H749.5V620.28H735.5zM1029.5 647.35H1043.5V660.89H1029.5zM1015.5 701.5H1029.5V715.04H1015.5zM1211.5 701.5H1239.5V715.04H1211.5zM427.5 782.72H441.5V796.26H427.5zM217.5 850.41H231.5V863.95H217.5zM273.5 850.41H287.5V863.95H273.5zM497.5 850.41H511.5V863.95H497.5zM1197.5 945.17H1211.5V958.71H1197.5zM427.5 999.32H441.5V1012.85H427.5zM427.5 1053.46H441.5V1067H427.5z"/>
<path fill="#fee695" d="M973.5 78.8H987.5V92.34H973.5zM1001.5 78.8H1029.5V92.34H1001.5zM973.5 92.34H987.5V105.87H973.5zM1001.5 92.34H1029.5V105.87H1001.5zM581.5 268.32H595.5V281.86H581.5zM1211.5 281.86H1239.5V295.39H1211.5zM1211.5 295.39H1239.5V308.93H1211.5zM1211.5 322.47H1239.5V336H1211.5zM623.5 444.3H637.5V457.84H623.5zM847.5 660.89H861.5V674.43H847.5zM1029.5 701.5H1043.5V715.04H1029.5zM469.5 796.26H483.5V809.8H469.5zM483.5 809.8H497.5V823.34H483.5z"/>
<path fill="#fee28f" d="M1113.5 105.87H1127.5V119.41H1113.5zM1197.5 187.1H1211.5V200.63H1197.5zM637.5 281.86H651.5V295.39H637.5zM1015.5 647.35H1029.5V660.89H1015.5zM455.5 674.43H469.5V687.97H455.5zM455.5 796.26H469.5V809.8H455.5zM483.5 823.34H497.5V836.87H483.5zM609.5 823.34H623.5V836.87H609.5z"/>
<path fill="#fee08b" d="M1127.5 105.87H1141.5V119.41H1127.5zM1197.5 173.56H1211.5V187.1H1197.5zM889.5 349.54H903.5V363.08H889.5zM945.5 403.69H959.5V417.23H945.5zM329.5 796.26H343.5V809.8H329.5zM483.5 945.17H497.5V958.71H483.5z"/>
<path fill="#feda86" d="M1029.5 78.8H1043.5V92.34H1029.5zM1029.5 92.34H1043.5V105.87H1029.5zM1099.5 119.41H1113.5V132.95H1099.5zM1183.5 200.63H1197.5V214.17H1183.5zM1001.5 241.24H1015.5V254.78H1001.5zM1211.5 268.32H1239.5V281.86H1211.5zM1057.5 295.39H1071.5V308.93H1057.5z"/>
<path fill="#fed683" d="M315.5 105.87H329.5V119.41H315.5zM973.5 241.24H987.5V254.78H973.5zM973.5 254.78H987.5V268.32H973.5zM1001.5 254.78H1015.5V268.32H1001.5zM1043.5 295.39H1057.5V308.93H1043.5zM1043.5 322.47H1071.5V336H1043.5zM651.5 430.76H665.5V444.3H651.5zM665.5 444.3H679.5V457.84H665.5zM847.5 620.28H861.5V633.82H847.5zM861.5 633.82H875.5V647.35H861.5zM1197.5 958.71H1211.5V972.24H1197.5z"/>
<path fill="#fed07e" d="M581.5 241.24H595.5V254.78H581.5zM581.5 254.78H595.5V268.32H581.5zM1043.5 701.5H1071.5V715.04H1043.5z"/>
<path fill="#fecc7b" d="M441.5 484.91H455.5V498.45H441.5zM441.5 498.45H455.5V511.98H441.5zM791.5 836.87H819.5V850.41H791.5z"/>
<path fill="#fdc776" d="M329.5 187.1H343.5V200.63H329.5zM581.5 308.93H595.5V322.47H581.5zM665.5 579.67H679.5V593.21H665.5zM665.5 593.21H679.5V606.74H665.5zM693.5 620.28H721.5V633.82H693.5zM987.5 701.5H1001.5V715.04H987.5zM1113.5 945.17H1127.5V958.71H1113.5z"/>
<path fill="#fdc372" d="M329.5 173.56H343.5V187.1H329.5zM497.5 214.17H511.5V227.71H497.5zM889.5 390.15H903.5V403.69H889.5zM903.5 403.69H917.5V417.23H903.5zM175.5 782.72H217.5V796.26H175.5zM399.5 782.72H427.5V796.26H399.5zM1085.5 782.72H1099.5V796.26H1085.5zM273.5 863.95H287.5V877.48H273.5zM497.5 863.95H511.5V877.48H497.5zM273.5 877.48H287.5V891.02H273.5zM497.5 877.48H511.5V891.02H497.5zM1127.5 945.17H1141.5V958.71H1127.5zM175.5 999.32H217.5V1012.85H175.5zM399.5 999.32H427.5V1012.85H399.5zM273.5 1067H287.5V1080.54H273.5zM497.5 1067H511.5V1080.54H497.5zM273.5 1080.54H287.5V1094.08H273.5zM497.5 1080.54H511.5V1094.08H497.5zM273.5 1094.08H287.5V1107.61H273.5zM497.5 1094.08H511.5V1107.61H497.5z"/>
<path fill="#fdbd6d" d="M595.5 430.76H609.5V444.3H595.5zM861.5 687.97H875.5V701.5H861.5z"/>
<path fill="#fdb768" d="M315.5 214.17H329.5V227.71H315.5zM665.5 525.52H679.5V539.06H665.5zM763.5 620.28H777.5V633.82H763.5zM1085.5 958.71H1099.5V972.24H1085.5z"/>
<path fill="#fdb365" d="M1071.5 160.02H1085.5V173.56H1071.5zM1141.5 227.71H1155.5V241.24H1141.5zM1015.5 254.78H1029.5V268.32H1015.5zM1043.5 281.86H1057.5V295.39H1043.5zM665.5 566.13H679.5V579.67H665.5zM721.5 620.28H735.5V633.82H721.5z"/>
<path fill="#fdad60" d="M1015.5 241.24H1029.5V254.78H1015.5zM1057.5 281.86H1071.5V295.39H1057.5zM441.5 390.15H455.5V403.69H441.5zM665.5 552.6H679.5V566.13H665.5zM665.5 606.74H679.5V620.28H665.5zM679.5 620.28H693.5V633.82H679.5zM735.5 620.28H749.5V633.82H735.5zM903.5 836.87H917.5V850.41H903.5zM315.5 945.17H329.5V958.71H315.5zM329.5 958.71H343.5V972.24H329.5z"/>
<path fill="#fca85e" d="M917.5 160.02H945.5V173.56H917.5zM1029.5 254.78H1043.5V268.32H1029.5zM1043.5 268.32H1057.5V281.86H1043.5zM1141.5 363.08H1155.5V376.61H1141.5zM1141.5 376.61H1155.5V390.15H1141.5zM665.5 539.06H679.5V552.6H665.5zM749.5 620.28H763.5V633.82H749.5zM595.5 633.82H609.5V647.35H595.5zM651.5 687.97H665.5V701.5H651.5z"/>
<path fill="#fba05b" d="M441.5 349.54H455.5V363.08H441.5zM791.5 403.69H819.5V417.23H791.5zM889.5 484.91H903.5V498.45H889.5zM889.5 498.45H903.5V511.98H889.5zM945.5 836.87H959.5V850.41H945.5z"/>
<path fill="#fa9b58" d="M1029.5 241.24H1043.5V254.78H1029.5zM1057.5 268.32H1071.5V281.86H1057.5zM567.5 674.43H581.5V687.97H567.5zM609.5 715.04H623.5V728.58H609.5z"/>
<path fill="#f99355" d="M1071.5 146.49H1085.5V160.02H1071.5zM1155.5 227.71H1169.5V241.24H1155.5zM693.5 539.06H721.5V552.6H693.5zM749.5 579.67H763.5V593.21H749.5zM749.5 593.21H763.5V606.74H749.5zM553.5 715.04H567.5V728.58H553.5zM567.5 728.58H581.5V742.11H567.5z"/>
<path fill="#f88c51" d="M259.5 471.37H273.5V484.91H259.5zM231.5 742.11H245.5V755.65H231.5zM231.5 755.65H245.5V769.19H231.5zM231.5 891.02H245.5V904.56H231.5zM231.5 904.56H245.5V918.09H231.5zM231.5 918.09H245.5V931.63H231.5zM819.5 1012.85H833.5V1026.39H819.5zM357.5 1039.93H399.5V1053.46H357.5zM525.5 1039.93H553.5V1053.46H525.5z"/>
<path fill="#f8864f" d="M1113.5 173.56H1127.5V187.1H1113.5zM1127.5 187.1H1141.5V200.63H1127.5zM735.5 539.06H749.5V552.6H735.5zM749.5 552.6H763.5V566.13H749.5z"/>
<path fill="#f67f4b" d="M917.5 146.49H945.5V160.02H917.5zM1155.5 363.08H1169.5V376.61H1155.5zM1155.5 376.61H1169.5V390.15H1155.5zM735.5 525.52H749.5V539.06H735.5zM763.5 552.6H777.5V566.13H763.5z"/>
<path fill="#f67a49" d="M301.5 457.84H315.5V471.37H301.5zM833.5 972.24H847.5V985.78H833.5z"/>
<path fill="#f57245" d="M791.5 349.54H819.5V363.08H791.5zM945.5 484.91H959.5V498.45H945.5zM945.5 498.45H959.5V511.98H945.5zM245.5 918.09H259.5V931.63H245.5zM357.5 1026.39H371.5V1039.93H357.5z"/>
<path fill="#f46d43" d="M693.5 525.52H721.5V539.06H693.5zM693.5 566.13H721.5V579.67H693.5zM721.5 579.67H735.5V593.21H721.5zM763.5 579.67H777.5V593.21H763.5zM721.5 593.21H735.5V606.74H721.5zM763.5 593.21H777.5V606.74H763.5zM245.5 742.11H259.5V755.65H245.5zM245.5 755.65H259.5V769.19H245.5zM245.5 891.02H259.5V904.56H245.5zM245.5 904.56H259.5V918.09H245.5zM371.5 1026.39H399.5V1039.93H371.5zM525.5 1026.39H553.5V1039.93H525.5z"/>
<path fill="#f06744" d="M175.5 850.41H217.5V863.95H175.5zM399.5 850.41H427.5V863.95H399.5zM427.5 863.95H441.5V877.48H427.5zM427.5 877.48H441.5V891.02H427.5zM427.5 1067H441.5V1080.54H427.5zM427.5 1080.54H441.5V1094.08H427.5zM427.5 1094.08H441.5V1107.61H427.5z"/>
<path fill="#ee6445" d="M287.5 457.84H301.5V471.37H287.5zM231.5 511.98H245.5V525.52H231.5zM693.5 552.6H735.5V566.13H693.5zM735.5 566.13H749.5V579.67H735.5zM735.5 579.67H749.5V593.21H735.5zM735.5 593.21H749.5V606.74H735.5zM833.5 985.78H847.5V999.32H833.5zM777.5 1039.93H791.5V1053.46H777.5z"/>
<path fill="#ea5e47" d="M1057.5 78.8H1071.5V92.34H1057.5zM1057.5 92.34H1071.5V105.87H1057.5zM1211.5 241.24H1239.5V254.78H1211.5zM1015.5 268.32H1029.5V281.86H1015.5zM1029.5 281.86H1043.5V295.39H1029.5zM623.5 417.23H637.5V430.76H623.5zM875.5 660.89H889.5V674.43H875.5z"/>
<path fill="#e75948" d="M245.5 511.98H259.5V525.52H245.5zM777.5 1026.39H791.5V1039.93H777.5z"/>
<path fill="#e45549" d="M959.5 295.39H973.5V308.93H959.5zM1001.5 336H1015.5V349.54H1001.5zM903.5 349.54H917.5V363.08H903.5zM945.5 390.15H959.5V403.69H945.5zM455.5 809.8H469.5V823.34H455.5zM469.5 823.34H483.5V836.87H469.5z"/>
<path fill="#e1504b" d="M1043.5 78.8H1057.5V92.34H1043.5zM1043.5 92.34H1057.5V105.87H1043.5zM1211.5 254.78H1239.5V268.32H1211.5zM749.5 525.52H763.5V539.06H749.5zM763.5 539.06H777.5V552.6H763.5z"/>
<path fill="#de4c4b" d="M721.5 525.52H735.5V539.06H721.5zM763.5 566.13H777.5V579.67H763.5z"/>
<path fill="#da464d" d="M959.5 322.47H973.5V336H959.5zM973.5 336H987.5V349.54H973.5zM791.5 390.15H819.5V403.69H791.5zM903.5 484.91H917.5V498.45H903.5zM903.5 498.45H917.5V511.98H903.5zM721.5 539.06H735.5V552.6H721.5zM749.5 566.13H763.5V579.67H749.5zM287.5 972.24H301.5V985.78H287.5zM301.5 985.78H315.5V999.32H301.5z"/>
<path fill="#d8434e" d="M357.5 511.98H371.5V525.52H357.5zM777.5 918.09H791.5V931.63H777.5z"/>
<path fill="#d43d4f" d="M371.5 511.98H385.5V525.52H371.5zM525.5 511.98H553.5V525.52H525.5zM777.5 742.11H791.5V755.65H777.5zM777.5 755.65H791.5V769.19H777.5zM777.5 904.56H791.5V918.09H777.5z"/>
<path fill="#d0384e" d="M973.5 295.39H987.5V308.93H973.5zM1001.5 322.47H1015.5V336H1001.5zM385.5 511.98H399.5V525.52H385.5zM777.5 891.02H791.5V904.56H777.5z"/>
<path fill="#c32a4b" d="M1141.5 146.49H1155.5V160.02H1141.5zM1155.5 160.02H1169.5V173.56H1155.5zM1043.5 241.24H1057.5V254.78H1043.5zM1057.5 254.78H1071.5V268.32H1057.5z"/>
<path fill="#be254a" d="M1211.5 78.8H1225.5V92.34H1211.5zM1225.5 92.34H1239.5V105.87H1225.5zM231.5 1026.39H245.5V1039.93H231.5zM245.5 1039.93H259.5V1053.46H245.5z"/>
<path fill="#b81e48" d="M917.5 227.71H945.5V241.24H917.5zM1071.5 363.08H1085.5V376.61H1071.5zM1071.5 376.61H1085.5V390.15H1071.5z"/>
<path fill="#a90d45" d="M357.5 891.02H385.5V904.56H357.5zM357.5 904.56H371.5V918.09H357.5zM385.5 904.56H399.5V918.09H385.5zM371.5 918.09H399.5V931.63H371.5z"/>
<path fill="#a20643" d="M791.5 484.91H805.5V498.45H791.5zM805.5 498.45H819.5V511.98H805.5zM357.5 742.11H399.5V755.65H357.5zM525.5 742.11H539.5V755.65H525.5zM357.5 755.65H399.5V769.19H357.5zM539.5 755.65H553.5V769.19H539.5zM525.5 891.02H553.5V904.56H525.5zM525.5 904.56H553.5V918.09H525.5zM525.5 918.09H553.5V931.63H525.5z"/>
<path fill="#9e0142" d="M1225.5 78.8H1239.5V92.34H1225.5zM1211.5 92.34H1225.5V105.87H1211.5zM1197.5 105.87H1211.5V119.41H1197.5zM1183.5 119.41H1197.5V132.95H1183.5zM1169.5 132.95H1183.5V146.49H1169.5zM1155.5 146.49H1169.5V160.02H1155.5zM1141.5 160.02H1155.5V173.56H1141.5zM1127.5 173.56H1141.5V187.1H1127.5zM1113.5 187.1H1127.5V200.63H1113.5zM1099.5 200.63H1113.5V214.17H1099.5zM1085.5 214.17H1099.5V227.71H1085.5zM1071.5 227.71H1085.5V241.24H1071.5zM1057.5 241.24H1071.5V254.78H1057.5zM1043.5 254.78H1057.5V268.32H1043.5zM1029.5 268.32H1043.5V281.86H1029.5zM1015.5 281.86H1029.5V295.39H1015.5zM1001.5 295.39H1015.5V308.93H1001.5zM987.5 308.93H1001.5V322.47H987.5zM973.5 322.47H987.5V336H973.5zM959.5 336H973.5V349.54H959.5zM945.5 349.54H959.5V363.08H945.5zM917.5 363.08H945.5V376.61H917.5zM917.5 376.61H945.5V390.15H917.5zM903.5 390.15H917.5V403.69H903.5zM889.5 403.69H903.5V417.23H889.5zM875.5 417.23H889.5V430.76H875.5zM861.5 430.76H875.5V444.3H861.5zM847.5 444.3H861.5V457.84H847.5zM833.5 457.84H847.5V471.37H833.5zM819.5 471.37H833.5V484.91H819.5zM805.5 484.91H819.5V498.45H805.5zM791.5 498.45H805.5V511.98H791.5zM777.5 511.98H791.5V525.52H777.5zM763.5 525.52H777.5V539.06H763.5zM749.5 539.06H763.5V552.6H749.5zM735.5 552.6H749.5V566.13H735.5zM721.5 566.13H735.5V579.67H721.5zM693.5 579.67H721.5V593.21H693.5zM693.5 593.21H721.5V606.74H693.5zM679.5 606.74H693.5V620.28H679.5zM665.5 620.28H679.5V633.82H665.5zM651.5 633.82H665.5V647.35H651.5zM637.5 647.35H651.5V660.89H637.5zM623.5 660.89H637.5V674.43H623.5zM609.5 674.43H623.5V687.97H609.5zM595.5 687.97H609.5V701.5H595.5zM581.5 701.5H595.5V715.04H581.5zM567.5 715.04H581.5V728.58H567.5zM553.5 728.58H567.5V742.11H553.5zM539.5 742.11H553.5V755.65H539.5zM525.5 755.65H539.5V769.19H525.5zM511.5 769.19H525.5V782.72H511.5zM497.5 782.72H511.5V796.26H497.5zM483.5 796.26H497.5V809.8H483.5zM469.5 809.8H483.5V823.34H469.5zM455.5 823.34H469.5V836.87H455.5zM441.5 836.87H455.5V850.41H441.5zM427.5 850.41H441.5V863.95H427.5zM175.5 863.95H217.5V877.48H175.5zM399.5 863.95H427.5V877.48H399.5zM175.5 877.48H217.5V891.02H175.5zM399.5 877.48H427.5V891.02H399.5zM385.5 891.02H399.5V904.56H385.5zM371.5 904.56H385.5V918.09H371.5zM357.5 918.09H371.5V931.63H357.5zM343.5 931.63H357.5V945.17H343.5zM329.5 945.17H343.5V958.71H329.5zM315.5 958.71H329.5V972.24H315.5zM301.5 972.24H315.5V985.78H301.5zM287.5 985.78H301.5V999.32H287.5zM273.5 999.32H287.5V1012.85H273.5zM259.5 1012.85H273.5V1026.39H259.5zM245.5 1026.39H259.5V1039.93H245.5zM231.5 1039.93H245.5V1053.46H231.5zM217.5 1053.46H231.5V1067H217.5zM175.5 1067H217.5V1080.54H175.5zM399.5 1067H427.5V1080.54H399.5zM175.5 1080.54H217.5V1094.08H175.5zM399.5 1080.54H427.5V1094.08H399.5zM175.5 1094.08H217.5V1107.61H175.5zM399.5 1094.08H427.5V1107.61H399.5z"/>
</g>
<rect x="176.7" y="78.9" width="1064.3" height="1028.5" fill="none" stroke="#000" stroke-width="3"/>
<path d="M163 85.87H175.5M163 99.41H175.5M163 112.94H175.5M163 126.48H175.5M163 140.02H175.5M163 153.55H175.5M163 167.09H175.5M163 180.63H175.5M163 194.16H175.5M163 207.7H175.5M163 221.24H175.5M163 234.78H175.5M163 248.31H175.5M163 261.85H175.5M163 275.39H175.5M163 288.92H175.5M163 302.46H175.5M163 316H175.5M163 329.53H175.5M163 343.07H175.5M163 356.61H175.5M163 370.15H175.5M163 383.68H175.5M163 397.22H175.5M163 410.76H175.5M163 424.29H175.5M163 437.83H175.5M163 451.37H175.5M163 464.9H175.5M163 478.44H175.5M163 491.98H175.5M163 505.52H175.5M163 519.05H175.5M163 532.59H175.5M163 546.13H175.5M163 559.66H175.5M163 573.2H175.5M163 586.74H175.5M163 600.27H175.5M163 613.81H175.5M163 627.35H175.5M163 640.89H175.5M163 654.42H175.5M163 667.96H175.5M163 681.5H175.5M163 695.03H175.5M163 708.57H175.5M163 722.11H175.5M163 735.64H175.5M163 749.18H175.5M163 762.72H175.5M163 776.26H175.5M163 789.79H175.5M163 803.33H175.5M163 816.87H175.5M163 830.4H175.5M163 843.94H175.5M163 857.48H175.5M163 871.01H175.5M163 884.55H175.5M163 898.09H175.5M163 911.63H175.5M163 925.16H175.5M163 938.7H175.5M163 952.24H175.5M163 965.77H175.5M163 979.31H175.5M163 992.85H175.5M163 1006.38H175.5M163 1019.92H175.5M163 1033.46H175.5M163 1047H175.5M163 1060.53H175.5M163 1074.07H175.5M163 1087.61H175.5M163 1101.14H175.5M182.8 1108.5V1121M196.8 1108.5V1121M210.8 1108.5V1121M224.8 1108.5V1121M238.8 1108.5V1121M252.8 1108.5V1121M266.8 1108.5V1121M280.8 1108.5V1121M294.8 1108.5V1121M308.8 1108.5V1121M322.8 1108.5V1121M336.8 1108.5V1121M350.8 1108.5V1121M364.8 1108.5V1121M378.8 1108.5V1121M392.8 1108.5V1121M406.8 1108.5V1121M420.8 1108.5V1121M434.8 1108.5V1121M448.8 1108.5V1121M462.8 1108.5V1121M476.8 1108.5V1121M490.8 1108.5V1121M504.8 1108.5V1121M518.8 1108.5V1121M532.8 1108.5V1121M546.8 1108.5V1121M560.8 1108.5V1121M574.8 1108.5V1121M588.8 1108.5V1121M602.8 1108.5V1121M616.8 1108.5V1121M630.8 1108.5V1121M644.8 1108.5V1121M658.8 1108.5V1121M672.8 1108.5V1121M686.8 1108.5V1121M700.8 1108.5V1121M714.8 1108.5V1121M728.8 1108.5V1121M742.8 1108.5V1121M756.8 1108.5V1121M770.8 1108.5V1121M784.8 1108.5V1121M798.8 1108.5V1121M812.8 1108.5V1121M826.8 1108.5V1121M840.8 1108.5V1121M854.8 1108.5V1121M868.8 1108.5V1121M882.8 1108.5V1121M896.8 1108.5V1121M910.8 1108.5V1121M924.8 1108.5V1121M938.8 1108.5V1121M952.8 1108.5V1121M966.8 1108.5V1121M980.8 1108.5V1121M994.8 1108.5V1121M1008.8 1108.5V1121M1022.8 1108.5V1121M1036.8 1108.5V1121M1050.8 1108.5V1121M1064.8 1108.5V1121M1078.8 1108.5V1121M1092.8 1108.5V1121M1106.8 1108.5V1121M1120.8 1108.5V1121M1134.8 1108.5V1121M1148.8 1108.5V1121M1162.8 1108.5V1121M1176.8 1108.5V1121M1190.8 1108.5V1121M1204.8 1108.5V1121M1218.8 1108.5V1121M1232.8 1108.5V1121" stroke="#000" stroke-width="3" fill="none"/>
<g class="t" text-anchor="end">
<text x="149.3" y="91.27" textLength="43.8" lengthAdjust="spacingAndGlyphs">Flores</text>
<text x="149.3" y="104.81" textLength="43.3" lengthAdjust="spacingAndGlyphs">Wetar</text>
<text x="149.3" y="118.34" textLength="105.9" lengthAdjust="spacingAndGlyphs">Panama South</text>
<text x="149.3" y="131.88" textLength="35.8" lengthAdjust="spacingAndGlyphs">Hjort</text>
<text x="149.3" y="145.42" textLength="79.4" lengthAdjust="spacingAndGlyphs">East Luzon</text>
<text x="149.3" y="158.95" textLength="58.1" lengthAdjust="spacingAndGlyphs">Goringe</text>
<text x="149.3" y="172.49" textLength="77.6" lengthAdjust="spacingAndGlyphs">Horseshoe</text>
<text x="149.3" y="186.03" textLength="51.5" lengthAdjust="spacingAndGlyphs">Algeria</text>
<text x="149.3" y="199.56" textLength="38.1" lengthAdjust="spacingAndGlyphs">Adria</text>
<text x="149.3" y="213.1" textLength="111.5" lengthAdjust="spacingAndGlyphs">Jamaica Trough</text>
<text x="149.3" y="226.64" textLength="113.1" lengthAdjust="spacingAndGlyphs">Muertos Trough</text>
<text x="149.3" y="240.18" textLength="55.5" lengthAdjust="spacingAndGlyphs">Mussau</text>
<text x="149.3" y="253.71" textLength="125" lengthAdjust="spacingAndGlyphs">New Guinea East</text>
<text x="149.3" y="267.25" textLength="129.3" lengthAdjust="spacingAndGlyphs">New Guinea West</text>
<text x="149.3" y="280.79" textLength="103.6" lengthAdjust="spacingAndGlyphs">East Bismarck</text>
<text x="149.3" y="294.32" textLength="47.9" lengthAdjust="spacingAndGlyphs">Manus</text>
<text x="149.3" y="307.86" textLength="79.3" lengthAdjust="spacingAndGlyphs">Sulu South</text>
<text x="149.3" y="321.4" textLength="66.9" lengthAdjust="spacingAndGlyphs">Cotobato</text>
<text x="149.3" y="334.93" textLength="77.6" lengthAdjust="spacingAndGlyphs">Sulu North</text>
<text x="149.3" y="348.47" textLength="51.6" lengthAdjust="spacingAndGlyphs">Negros</text>
<text x="149.3" y="362.01" textLength="67.7" lengthAdjust="spacingAndGlyphs">Izu-Bonin</text>
<text x="149.3" y="375.55" textLength="39.5" lengthAdjust="spacingAndGlyphs">Palau</text>
<text x="149.3" y="389.08" textLength="25" lengthAdjust="spacingAndGlyphs">Yap</text>
<text x="149.3" y="402.62" textLength="59" lengthAdjust="spacingAndGlyphs">Mariana</text>
<text x="149.3" y="416.16" textLength="60.4" lengthAdjust="spacingAndGlyphs">Vanuatu</text>
<text x="149.3" y="429.69" textLength="132.8" lengthAdjust="spacingAndGlyphs">Nth New Hebrides</text>
<text x="149.3" y="443.23" textLength="119.8" lengthAdjust="spacingAndGlyphs">Solomon Islands</text>
<text x="149.3" y="456.77" textLength="84.9" lengthAdjust="spacingAndGlyphs">New Britain</text>
<text x="149.3" y="470.3" textLength="67.8" lengthAdjust="spacingAndGlyphs">Puysegur</text>
<text x="149.3" y="483.84" textLength="70.1" lengthAdjust="spacingAndGlyphs">Hikurangi</text>
<text x="149.3" y="497.38" textLength="73.2" lengthAdjust="spacingAndGlyphs">Kermadec</text>
<text x="149.3" y="510.92" textLength="42.7" lengthAdjust="spacingAndGlyphs">Tonga</text>
<text x="149.3" y="524.45" textLength="47.9" lengthAdjust="spacingAndGlyphs">Alaska</text>
<text x="149.3" y="537.99" textLength="96.8" lengthAdjust="spacingAndGlyphs">Aleutian East</text>
<text x="149.3" y="551.53" textLength="101.1" lengthAdjust="spacingAndGlyphs">Aleutian West</text>
<text x="149.3" y="565.06" textLength="81.9" lengthAdjust="spacingAndGlyphs">Kamchatka</text>
<text x="149.3" y="578.6" textLength="48.9" lengthAdjust="spacingAndGlyphs">Kuriles</text>
<text x="149.3" y="592.14" textLength="68" lengthAdjust="spacingAndGlyphs">Hokkaido</text>
<text x="149.3" y="605.67" textLength="55.5" lengthAdjust="spacingAndGlyphs">Honshu</text>
<text x="149.3" y="619.21" textLength="50.5" lengthAdjust="spacingAndGlyphs">Nankai</text>
<text x="149.3" y="632.75" textLength="53.2" lengthAdjust="spacingAndGlyphs">Ryukyu</text>
<text x="149.3" y="646.29" textLength="48.1" lengthAdjust="spacingAndGlyphs">Manila</text>
<text x="149.3" y="659.82" textLength="100.4" lengthAdjust="spacingAndGlyphs">Philippine Sth</text>
<text x="149.3" y="673.36" textLength="102.1" lengthAdjust="spacingAndGlyphs">Philippine Nth</text>
<text x="149.3" y="686.9" textLength="59.3" lengthAdjust="spacingAndGlyphs">Sangihe</text>
<text x="149.3" y="700.43" textLength="80.7" lengthAdjust="spacingAndGlyphs">Halmahera</text>
<text x="149.3" y="713.97" textLength="64.4" lengthAdjust="spacingAndGlyphs">Sulawesi</text>
<text x="149.3" y="727.51" textLength="47.6" lengthAdjust="spacingAndGlyphs">Seram</text>
<text x="149.3" y="741.04" textLength="41.8" lengthAdjust="spacingAndGlyphs">Timor</text>
<text x="149.3" y="754.58" textLength="31" lengthAdjust="spacingAndGlyphs">Java</text>
<text x="149.3" y="768.12" textLength="62.6" lengthAdjust="spacingAndGlyphs">Sumatra</text>
<text x="149.3" y="781.66" textLength="70.2" lengthAdjust="spacingAndGlyphs">Andaman</text>
<text x="149.3" y="795.19" textLength="54.4" lengthAdjust="spacingAndGlyphs">Makran</text>
<text x="149.3" y="808.73" textLength="79.6" lengthAdjust="spacingAndGlyphs">Cyprus Arc</text>
<text x="149.3" y="822.27" textLength="87.1" lengthAdjust="spacingAndGlyphs">Hellenic Arc</text>
<text x="149.3" y="835.8" textLength="76.9" lengthAdjust="spacingAndGlyphs">Ionian Sea</text>
<text x="149.3" y="849.34" textLength="70.3" lengthAdjust="spacingAndGlyphs">Sandwich</text>
<text x="149.3" y="862.88" textLength="65" lengthAdjust="spacingAndGlyphs">Shetland</text>
<text x="149.3" y="876.41" textLength="57.7" lengthAdjust="spacingAndGlyphs">Fireland</text>
<text x="149.3" y="889.95" textLength="72.5" lengthAdjust="spacingAndGlyphs">Patagonia</text>
<text x="149.3" y="903.49" textLength="36.7" lengthAdjust="spacingAndGlyphs">Chile</text>
<text x="149.3" y="917.03" textLength="82.4" lengthAdjust="spacingAndGlyphs">North Chile</text>
<text x="149.3" y="930.56" textLength="32.6" lengthAdjust="spacingAndGlyphs">Peru</text>
<text x="149.3" y="944.1" textLength="68.9" lengthAdjust="spacingAndGlyphs">Colombia</text>
<text x="149.3" y="957.64" textLength="58.6" lengthAdjust="spacingAndGlyphs">Panama</text>
<text x="149.3" y="971.17" textLength="75.2" lengthAdjust="spacingAndGlyphs">Venezuela</text>
<text x="149.3" y="984.71" textLength="76.4" lengthAdjust="spacingAndGlyphs">Hispaniola</text>
<text x="149.3" y="998.25" textLength="83.6" lengthAdjust="spacingAndGlyphs">Puerto Rico</text>
<text x="149.3" y="1011.78" textLength="105.9" lengthAdjust="spacingAndGlyphs">Lesser Antilles</text>
<text x="149.3" y="1025.32" textLength="43.9" lengthAdjust="spacingAndGlyphs">Cocos</text>
<text x="149.3" y="1038.86" textLength="118.5" lengthAdjust="spacingAndGlyphs">Central America</text>
<text x="149.3" y="1052.4" textLength="51.2" lengthAdjust="spacingAndGlyphs">Mexico</text>
<text x="149.3" y="1065.93" textLength="47" lengthAdjust="spacingAndGlyphs">Rivera</text>
<text x="149.3" y="1079.47" textLength="44.4" lengthAdjust="spacingAndGlyphs">Gorda</text>
<text x="149.3" y="1093.01" textLength="66.3" lengthAdjust="spacingAndGlyphs">Cascadia</text>
<text x="149.3" y="1106.54" textLength="61" lengthAdjust="spacingAndGlyphs">Explorer</text>
</g>
<g class="t" text-anchor="end">
<text transform="translate(187.7 1135.5) rotate(-90)" textLength="61" lengthAdjust="spacingAndGlyphs">Explorer</text>
<text transform="translate(201.7 1135.5) rotate(-90)" textLength="66.3" lengthAdjust="spacingAndGlyphs">Cascadia</text>
<text transform="translate(215.7 1135.5) rotate(-90)" textLength="44.4" lengthAdjust="spacingAndGlyphs">Gorda</text>
<text transform="translate(229.7 1135.5) rotate(-90)" textLength="47" lengthAdjust="spacingAndGlyphs">Rivera</text>
<text transform="translate(243.7 1135.5) rotate(-90)" textLength="51.2" lengthAdjust="spacingAndGlyphs">Mexico</text>
<text transform="translate(257.7 1135.5) rotate(-90)" textLength="118.5" lengthAdjust="spacingAndGlyphs">Central America</text>
<text transform="translate(271.7 1135.5) rotate(-90)" textLength="43.9" lengthAdjust="spacingAndGlyphs">Cocos</text>
<text transform="translate(285.7 1135.5) rotate(-90)" textLength="105.9" lengthAdjust="spacingAndGlyphs">Lesser Antilles</text>
<text transform="translate(299.7 1135.5) rotate(-90)" textLength="83.6" lengthAdjust="spacingAndGlyphs">Puerto Rico</text>
<text transform="translate(313.7 1135.5) rotate(-90)" textLength="76.4" lengthAdjust="spacingAndGlyphs">Hispaniola</text>
<text transform="translate(327.7 1135.5) rotate(-90)" textLength="75.2" lengthAdjust="spacingAndGlyphs">Venezuela</text>
<text transform="translate(341.7 1135.5) rotate(-90)" textLength="58.6" lengthAdjust="spacingAndGlyphs">Panama</text>
<text transform="translate(355.7 1135.5) rotate(-90)" textLength="68.9" lengthAdjust="spacingAndGlyphs">Colombia</text>
<text transform="translate(369.7 1135.5) rotate(-90)" textLength="32.6" lengthAdjust="spacingAndGlyphs">Peru</text>
<text transform="translate(383.7 1135.5) rotate(-90)" textLength="82.4" lengthAdjust="spacingAndGlyphs">North Chile</text>
<text transform="translate(397.7 1135.5) rotate(-90)" textLength="36.7" lengthAdjust="spacingAndGlyphs">Chile</text>
<text transform="translate(411.7 1135.5) rotate(-90)" textLength="72.5" lengthAdjust="spacingAndGlyphs">Patagonia</text>
<text transform="translate(425.7 1135.5) rotate(-90)" textLength="57.7" lengthAdjust="spacingAndGlyphs">Fireland</text>
<text transform="translate(439.7 1135.5) rotate(-90)" textLength="65" lengthAdjust="spacingAndGlyphs">Shetland</text>
<text transform="translate(453.7 1135.5) rotate(-90)" textLength="70.3" lengthAdjust="spacingAndGlyphs">Sandwich</text>
<text transform="translate(467.7 1135.5) rotate(-90)" textLength="76.9" lengthAdjust="spacingAndGlyphs">Ionian Sea</text>
<text transform="translate(481.7 1135.5) rotate(-90)" textLength="87.1" lengthAdjust="spacingAndGlyphs">Hellenic Arc</text>
<text transform="translate(495.7 1135.5) rotate(-90)" textLength="79.6" lengthAdjust="spacingAndGlyphs">Cyprus Arc</text>
<text transform="translate(509.7 1135.5) rotate(-90)" textLength="54.4" lengthAdjust="spacingAndGlyphs">Makran</text>
<text transform="translate(523.7 1135.5) rotate(-90)" textLength="70.2" lengthAdjust="spacingAndGlyphs">Andaman</text>
<text transform="translate(537.7 1135.5) rotate(-90)" textLength="62.6" lengthAdjust="spacingAndGlyphs">Sumatra</text>
<text transform="translate(551.7 1135.5) rotate(-90)" textLength="31" lengthAdjust="spacingAndGlyphs">Java</text>
<text transform="translate(565.7 1135.5) rotate(-90)" textLength="41.8" lengthAdjust="spacingAndGlyphs">Timor</text>
<text transform="translate(579.7 1135.5) rotate(-90)" textLength="47.6" lengthAdjust="spacingAndGlyphs">Seram</text>
<text transform="translate(593.7 1135.5) rotate(-90)" textLength="64.4" lengthAdjust="spacingAndGlyphs">Sulawesi</text>
<text transform="translate(607.7 1135.5) rotate(-90)" textLength="80.7" lengthAdjust="spacingAndGlyphs">Halmahera</text>
<text transform="translate(621.7 1135.5) rotate(-90)" textLength="59.3" lengthAdjust="spacingAndGlyphs">Sangihe</text>
<text transform="translate(635.7 1135.5) rotate(-90)" textLength="102.1" lengthAdjust="spacingAndGlyphs">Philippine Nth</text>
<text transform="translate(649.7 1135.5) rotate(-90)" textLength="100.4" lengthAdjust="spacingAndGlyphs">Philippine Sth</text>
<text transform="translate(663.7 1135.5) rotate(-90)" textLength="48.1" lengthAdjust="spacingAndGlyphs">Manila</text>
<text transform="translate(677.7 1135.5) rotate(-90)" textLength="53.2" lengthAdjust="spacingAndGlyphs">Ryukyu</text>
<text transform="translate(691.7 1135.5) rotate(-90)" textLength="50.5" lengthAdjust="spacingAndGlyphs">Nankai</text>
<text transform="translate(705.7 1135.5) rotate(-90)" textLength="55.5" lengthAdjust="spacingAndGlyphs">Honshu</text>
<text transform="translate(719.7 1135.5) rotate(-90)" textLength="68" lengthAdjust="spacingAndGlyphs">Hokkaido</text>
<text transform="translate(733.7 1135.5) rotate(-90)" textLength="48.9" lengthAdjust="spacingAndGlyphs">Kuriles</text>
<text transform="translate(747.7 1135.5) rotate(-90)" textLength="81.9" lengthAdjust="spacingAndGlyphs">Kamchatka</text>
<text transform="translate(761.7 1135.5) rotate(-90)" textLength="101.1" lengthAdjust="spacingAndGlyphs">Aleutian West</text>
<text transform="translate(775.7 1135.5) rotate(-90)" textLength="96.8" lengthAdjust="spacingAndGlyphs">Aleutian East</text>
<text transform="translate(789.7 1135.5) rotate(-90)" textLength="47.9" lengthAdjust="spacingAndGlyphs">Alaska</text>
<text transform="translate(803.7 1135.5) rotate(-90)" textLength="42.7" lengthAdjust="spacingAndGlyphs">Tonga</text>
<text transform="translate(817.7 1135.5) rotate(-90)" textLength="73.2" lengthAdjust="spacingAndGlyphs">Kermadec</text>
<text transform="translate(831.7 1135.5) rotate(-90)" textLength="70.1" lengthAdjust="spacingAndGlyphs">Hikurangi</text>
<text transform="translate(845.7 1135.5) rotate(-90)" textLength="67.8" lengthAdjust="spacingAndGlyphs">Puysegur</text>
<text transform="translate(859.7 1135.5) rotate(-90)" textLength="84.9" lengthAdjust="spacingAndGlyphs">New Britain</text>
<text transform="translate(873.7 1135.5) rotate(-90)" textLength="119.8" lengthAdjust="spacingAndGlyphs">Solomon Islands</text>
<text transform="translate(887.7 1135.5) rotate(-90)" textLength="132.8" lengthAdjust="spacingAndGlyphs">Nth New Hebrides</text>
<text transform="translate(901.7 1135.5) rotate(-90)" textLength="60.4" lengthAdjust="spacingAndGlyphs">Vanuatu</text>
<text transform="translate(915.7 1135.5) rotate(-90)" textLength="59" lengthAdjust="spacingAndGlyphs">Mariana</text>
<text transform="translate(929.7 1135.5) rotate(-90)" textLength="25" lengthAdjust="spacingAndGlyphs">Yap</text>
<text transform="translate(943.7 1135.5) rotate(-90)" textLength="39.5" lengthAdjust="spacingAndGlyphs">Palau</text>
<text transform="translate(957.7 1135.5) rotate(-90)" textLength="67.7" lengthAdjust="spacingAndGlyphs">Izu-Bonin</text>
<text transform="translate(971.7 1135.5) rotate(-90)" textLength="51.6" lengthAdjust="spacingAndGlyphs">Negros</text>
<text transform="translate(985.7 1135.5) rotate(-90)" textLength="77.6" lengthAdjust="spacingAndGlyphs">Sulu North</text>
<text transform="translate(999.7 1135.5) rotate(-90)" textLength="66.9" lengthAdjust="spacingAndGlyphs">Cotobato</text>
<text transform="translate(1013.7 1135.5) rotate(-90)" textLength="79.3" lengthAdjust="spacingAndGlyphs">Sulu South</text>
<text transform="translate(1027.7 1135.5) rotate(-90)" textLength="47.9" lengthAdjust="spacingAndGlyphs">Manus</text>
<text transform="translate(1041.7 1135.5) rotate(-90)" textLength="103.6" lengthAdjust="spacingAndGlyphs">East Bismarck</text>
<text transform="translate(1055.7 1135.5) rotate(-90)" textLength="129.3" lengthAdjust="spacingAndGlyphs">New Guinea West</text>
<text transform="translate(1069.7 1135.5) rotate(-90)" textLength="125" lengthAdjust="spacingAndGlyphs">New Guinea East</text>
<text transform="translate(1083.7 1135.5) rotate(-90)" textLength="55.5" lengthAdjust="spacingAndGlyphs">Mussau</text>
<text transform="translate(1097.7 1135.5) rotate(-90)" textLength="113.1" lengthAdjust="spacingAndGlyphs">Muertos Trough</text>
<text transform="translate(1111.7 1135.5) rotate(-90)" textLength="111.5" lengthAdjust="spacingAndGlyphs">Jamaica Trough</text>
<text transform="translate(1125.7 1135.5) rotate(-90)" textLength="38.1" lengthAdjust="spacingAndGlyphs">Adria</text>
<text transform="translate(1139.7 1135.5) rotate(-90)" textLength="51.5" lengthAdjust="spacingAndGlyphs">Algeria</text>
<text transform="translate(1153.7 1135.5) rotate(-90)" textLength="77.6" lengthAdjust="spacingAndGlyphs">Horseshoe</text>
<text transform="translate(1167.7 1135.5) rotate(-90)" textLength="58.1" lengthAdjust="spacingAndGlyphs">Goringe</text>
<text transform="translate(1181.7 1135.5) rotate(-90)" textLength="79.4" lengthAdjust="spacingAndGlyphs">East Luzon</text>
<text transform="translate(1195.7 1135.5) rotate(-90)" textLength="35.8" lengthAdjust="spacingAndGlyphs">Hjort</text>
<text transform="translate(1209.7 1135.5) rotate(-90)" textLength="105.9" lengthAdjust="spacingAndGlyphs">Panama South</text>
<text transform="translate(1223.7 1135.5) rotate(-90)" textLength="43.3" lengthAdjust="spacingAndGlyphs">Wetar</text>
<text transform="translate(1237.7 1135.5) rotate(-90)" textLength="43.8" lengthAdjust="spacingAndGlyphs">Flores</text>
</g>
<defs><linearGradient id="cb" x1="0" x2="1" y1="0" y2="0"><stop offset="0" stop-color="#5e4fa2"/><stop offset="0.025" stop-color="#545ca8"/><stop offset="0.05" stop-color="#496aaf"/><stop offset="0.075" stop-color="#3d79b6"/><stop offset="0.1" stop-color="#3387bc"/><stop offset="0.125" stop-color="#3f97b7"/><stop offset="0.15" stop-color="#4ba4b1"/><stop offset="0.175" stop-color="#58b2ac"/><stop offset="0.2" stop-color="#66c2a5"/><stop offset="0.225" stop-color="#76c8a5"/><stop offset="0.25" stop-color="#89d0a4"/><stop offset="0.275" stop-color="#99d6a4"/><stop offset="0.3" stop-color="#aadca4"/><stop offset="0.325" stop-color="#bae3a1"/><stop offset="0.35" stop-color="#c8e99e"/><stop offset="0.375" stop-color="#d8ef9b"/><stop offset="0.4" stop-color="#e6f598"/><stop offset="0.425" stop-color="#ecf7a1"/><stop offset="0.45" stop-color="#f3faac"/><stop offset="0.475" stop-color="#f9fcb5"/><stop offset="0.5" stop-color="#fffebe"/><stop offset="0.525" stop-color="#fff7b2"/><stop offset="0.55" stop-color="#fff0a6"/><stop offset="0.575" stop-color="#fee797"/><stop offset="0.6" stop-color="#fee08b"/><stop offset="0.625" stop-color="#fed27f"/><stop offset="0.65" stop-color="#fdc776"/><stop offset="0.675" stop-color="#fdbb6c"/><stop offset="0.7" stop-color="#fdad60"/><stop offset="0.725" stop-color="#fb9d59"/><stop offset="0.75" stop-color="#f88c51"/><stop offset="0.775" stop-color="#f67c4a"/><stop offset="0.8" stop-color="#f46d43"/><stop offset="0.825" stop-color="#eb6046"/><stop offset="0.85" stop-color="#e45549"/><stop offset="0.875" stop-color="#dc484c"/><stop offset="0.9" stop-color="#d43d4f"/><stop offset="0.925" stop-color="#c72e4c"/><stop offset="0.95" stop-color="#b81e48"/><stop offset="0.975" stop-color="#ab0f45"/><stop offset="1" stop-color="#9e0142"/></linearGradient></defs>
<rect x="24.4" y="1298.7" width="1368.5" height="28.7" fill="url(#cb)" stroke="#000" stroke-width="3"/>
<path d="M24.4 1327.4V1341M298.1 1327.4V1341M571.8 1327.4V1341M845.5 1327.4V1341M1119.2 1327.4V1341M1392.9 1327.4V1341" stroke="#000" stroke-width="2.8" fill="none"/>
<g font-size="21.6" text-anchor="middle">
<text x="24.4" y="1370.3" textLength="33" lengthAdjust="spacingAndGlyphs">0.0</text>
<text x="298.1" y="1370.3" textLength="33" lengthAdjust="spacingAndGlyphs">0.2</text>
<text x="571.8" y="1370.3" textLength="33" lengthAdjust="spacingAndGlyphs">0.4</text>
<text x="845.5" y="1370.3" textLength="33" lengthAdjust="spacingAndGlyphs">0.6</text>
<text x="1119.2" y="1370.3" textLength="33" lengthAdjust="spacingAndGlyphs">0.8</text>
<text x="1392.9" y="1370.3" textLength="33" lengthAdjust="spacingAndGlyphs">1.0</text>
</g>
<text id="cbl" x="708.5" y="1412.6" font-size="30" text-anchor="middle" textLength="395" lengthAdjust="spacingAndGlyphs">Normalized Grouping Rate</text>
</svg></body></html>
